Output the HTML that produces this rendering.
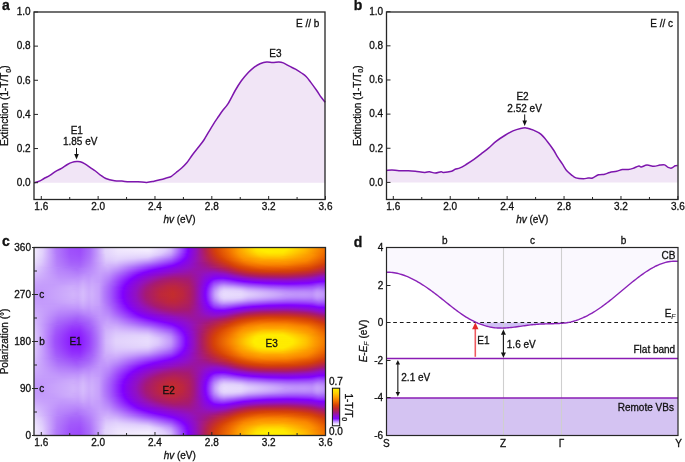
<!DOCTYPE html>
<html><head><meta charset="utf-8"><style>
html,body{margin:0;padding:0;background:#fff;}
#w{position:relative;width:685px;height:462px;overflow:hidden;background:#fff;}
#h div{position:absolute;left:34px;width:292px;height:1px;}
svg{position:absolute;left:0;top:0;will-change:transform;}
text{font-family:"Liberation Sans",sans-serif;fill:#111;stroke:#111;stroke-width:0.3px;}
</style></head><body><div id="w"><div id="h"><div style="top:248px;background:linear-gradient(90deg,#f4eefe 0px,#e1d0fc 9px,#b37cfa 22px,#9f51fb 36px,#9d4bfb 46px,#ab6dfa 56px,#c399fb 63px,#e4d4fc 71px,#efe7fd 84px,#f5effe 114px,#e0cefc 132px,#d4b9fc 137px,#9d4afb 148px,#8611fe 153px,#8101ff 154px,#9211bf 162px,#b02059 171px,#c52e2b 176px,#d44009 181px,#f27400 195px,#fea100 205px,#ffe600 221px,#ffee00 227px,#ffeb00 253px,#ffb700 272px,#f37700 289px,#f07000 291px)"></div><div style="top:249px;background:linear-gradient(90deg,#f4edfe 0px,#e1d0fc 9px,#b37cfa 22px,#9f51fb 36px,#9d4bfb 46px,#ab6dfa 56px,#c399fb 63px,#e3d4fc 71px,#efe6fd 84px,#f4eefe 114px,#e1d0fc 131px,#d3b7fb 137px,#9c49fb 148px,#8610fe 153px,#8000ff 154px,#9211be 162px,#b01f59 171px,#c83124 177px,#d64307 182px,#f27300 195px,#fea100 205px,#ffe700 222px,#ffee00 228px,#ffec00 252px,#ffba00 271px,#f47a00 288px,#f06f00 291px)"></div><div style="top:250px;background:linear-gradient(90deg,#f3edfe 0px,#e1cffc 9px,#b37cfa 22px,#9f51fb 36px,#9d4bfb 46px,#ab6efa 56px,#c399fb 63px,#e3d4fc 71px,#efe5fd 84px,#f3ecfe 114px,#dfccfc 131px,#d1b3fb 137px,#9b47fc 148px,#850efe 153px,#8000fe 154px,#9211be 162px,#b01f5a 171px,#c73125 177px,#d54208 182px,#f17200 195px,#fd9f00 205px,#ffe400 222px,#ffee00 229px,#ffec00 251px,#ffb800 271px,#f47800 288px,#f06e00 291px)"></div><div style="top:251px;background:linear-gradient(90deg,#f3ecfe 0px,#e0cffc 9px,#b37cfa 22px,#9f52fb 36px,#9d4cfb 46px,#ab6efa 56px,#c399fb 63px,#e3d3fc 71px,#eee4fd 84px,#f1e9fe 115px,#decbfc 130px,#cfaffb 137px,#9e4efb 147px,#8000fd 154px,#9311be 162px,#b42151 172px,#c73027 177px,#d54108 182px,#f07000 195px,#fd9e00 205px,#ffe300 223px,#ffee00 233px,#ffea00 250px,#ffb400 271px,#f37700 288px,#ef6d00 291px)"></div><div style="top:252px;background:linear-gradient(90deg,#f3ecfe 0px,#e3d4fc 8px,#b37dfa 22px,#a052fb 36px,#9e4dfb 46px,#ac6ffa 56px,#c399fb 63px,#e3d3fc 71px,#ede3fd 84px,#efe5fd 115px,#dfcdfc 128px,#cca9fb 137px,#9d4bfb 147px,#8101fc 154px,#9311bd 162px,#b32153 172px,#c62f29 177px,#d64307 183px,#ef6e00 195px,#fc9800 204px,#ffde00 223px,#ffeb00 234px,#ffe800 249px,#ffb000 271px,#f47800 287px,#ee6a00 291px)"></div><div style="top:253px;background:linear-gradient(90deg,#f2ebfe 0px,#e3d3fc 8px,#b37dfa 22px,#a053fb 36px,#9e4efb 46px,#ac6ffa 56px,#c399fb 63px,#e2d2fc 71px,#ece1fd 84px,#ece2fd 115px,#ddc9fc 127px,#c8a2fb 137px,#a257fb 145px,#8205ff 153px,#8404f2 155px,#9311bd 162px,#b22155 172px,#c83124 178px,#d54108 183px,#ee6b00 195px,#fc9500 204px,#ffda00 224px,#ffe500 235px,#ffe200 249px,#fea600 273px,#f17200 288px,#ed6800 291px)"></div><div style="top:254px;background:linear-gradient(90deg,#f1eafe 0px,#e2d2fc 8px,#b27afa 23px,#a054fb 36px,#9e4ffb 46px,#ac70fa 56px,#c399fb 63px,#e3d3fc 72px,#ebe0fd 84px,#e9ddfd 115px,#ddc8fc 125px,#c399fb 137px,#9f51fb 145px,#8001ff 153px,#9311bc 162px,#b5224e 173px,#c93320 179px,#d64307 184px,#ef6d00 196px,#fc9600 205px,#ffd600 225px,#ffdd00 236px,#ffdb00 249px,#fc9400 278px,#ec6500 291px)"></div><div style="top:255px;background:linear-gradient(90deg,#f1e9fe 0px,#e2d1fc 8px,#b27afa 23px,#a156fb 36px,#9f50fb 46px,#ad71fa 56px,#c399fb 63px,#e2d2fc 72px,#e9ddfd 85px,#e6d8fc 115px,#d7bffc 125px,#be90fb 137px,#9d4afb 145px,#8101fd 153px,#9311bb 162px,#b82447 174px,#cd3718 181px,#d64307 185px,#ee6900 196px,#fc9500 206px,#ffcf00 226px,#ffd500 236px,#ffd300 249px,#fb8e00 279px,#eb6100 291px)"></div><div style="top:256px;background:linear-gradient(90deg,#f0e8fd 0px,#e1d0fc 8px,#b27bfa 23px,#a157fb 36px,#9f52fb 46px,#ae72fa 56px,#c399fb 63px,#e1d1fc 72px,#e8dbfd 84px,#e2d2fc 115px,#bf91fb 134px,#b37cfa 138px,#850dfe 151px,#8101fa 153px,#9312bb 162px,#b7234b 174px,#cb351c 181px,#d74407 186px,#ee6a00 197px,#fc9500 207px,#ffc800 227px,#ffcd00 245px,#ffad00 263px,#fb8d00 278px,#e95e00 291px)"></div><div style="top:257px;background:linear-gradient(90deg,#efe6fd 0px,#e0cffc 8px,#b37bfa 23px,#a258fb 36px,#a054fb 46px,#ae73fa 56px,#c7a0fb 64px,#e0cffc 72px,#e6d8fc 84px,#dfcdfc 113px,#ba8afb 133px,#b279fa 137px,#8000fe 152px,#9412ba 162px,#b92447 175px,#d03b11 184px,#d94706 188px,#ee6a00 198px,#fc9300 208px,#ffc000 229px,#ffc100 249px,#fb8f00 276px,#e65b01 291px)"></div><div style="top:258px;background:linear-gradient(90deg,#eee5fd 0px,#dfcdfc 8px,#b37cfa 23px,#a258fb 37px,#a155fb 46px,#af74fa 56px,#c7a0fb 64px,#dfccfc 72px,#e4d6fc 83px,#dfcdfc 100px,#d7befc 114px,#ab6dfa 137px,#8000ff 151px,#9412b9 162px,#b7234b 175px,#c93321 182px,#d64307 188px,#ec6400 198px,#fb9000 209px,#ffb800 231px,#ffb700 249px,#fa8a00 276px,#e45702 291px)"></div><div style="top:259px;background:linear-gradient(90deg,#ede3fd 0px,#decbfc 8px,#b37dfa 23px,#a35afb 37px,#a257fb 46px,#b076fa 56px,#c7a0fb 64px,#decafc 72px,#e2d3fc 83px,#dac4fc 100px,#d0b2fb 114px,#a560fa 137px,#8000ff 150px,#9211c0 161px,#b42250 175px,#c73026 182px,#d54208 189px,#ed6800 200px,#fb8f00 211px,#ffa900 227px,#ffac00 248px,#fa8a00 274px,#e25503 290px,#e15303 291px)"></div><div style="top:260px;background:linear-gradient(90deg,#ece2fd 0px,#ddcafc 8px,#b47efa 23px,#a35cfb 37px,#a259fb 46px,#b077fa 56px,#c7a0fb 64px,#dcc7fc 72px,#e0cffc 82px,#d5bafc 100px,#c9a4fb 114px,#9d4cfb 138px,#8000fe 149px,#9311be 161px,#b5224f 176px,#ca341e 185px,#d64307 191px,#fa8700 210px,#fea200 226px,#fea200 251px,#fa8700 273px,#df5004 290px,#de4f04 291px)"></div><div style="top:261px;background:linear-gradient(90deg,#ebe0fd 0px,#dfcdfc 7px,#b47efa 23px,#a45efa 37px,#a35cfb 46px,#b179fa 56px,#c7a0fb 64px,#dbc4fc 72px,#ddc9fc 82px,#cfb0fb 100px,#bf93fb 115px,#983ffc 138px,#8000fd 148px,#9111c3 160px,#b5224f 177px,#cd3818 188px,#d64307 193px,#f57c00 209px,#fc9700 222px,#fd9f00 244px,#f98400 271px,#db4a05 291px)"></div><div style="top:262px;background:linear-gradient(90deg,#eadefd 0px,#decbfc 7px,#b57ffa 23px,#a560fa 37px,#a45efa 46px,#b27afa 56px,#d9c1fc 72px,#dac4fc 82px,#c9a5fb 100px,#b784fb 115px,#9331fd 138px,#8000ff 146px,#8f0fcb 158px,#a3197b 171px,#c22b30 184px,#d74407 195px,#f47900 211px,#fc9300 225px,#fc9400 251px,#f47a00 272px,#d84607 291px)"></div><div style="top:263px;background:linear-gradient(90deg,#e9dcfd 0px,#ddc8fc 7px,#b580fa 23px,#a663fa 37px,#a561fa 46px,#b37cfa 56px,#d7befc 72px,#d7befc 82px,#c39afb 100px,#af74fa 115px,#8d23fd 138px,#8000ff 144px,#8d0dd2 156px,#a21881 171px,#b12058 178px,#cb351d 191px,#d84507 197px,#f47800 214px,#fb8d00 228px,#fb8c00 252px,#f06f00 273px,#d44108 291px)"></div><div style="top:264px;background:linear-gradient(90deg,#e7dafd 0px,#dcc6fc 7px,#b681fa 23px,#a765fa 37px,#a663fa 46px,#b47efa 56px,#d5b9fc 71px,#d3b7fb 82px,#bd8efb 100px,#a157fb 119px,#8814fe 138px,#8000fe 142px,#8e0ece 156px,#a01787 171px,#ad1e60 178px,#cf3a14 195px,#d64307 198px,#f17100 215px,#f98600 231px,#f88400 252px,#ec6400 274px,#d23d0d 290px,#d13c10 291px)"></div><div style="top:265px;background:linear-gradient(90deg,#e6d8fc 0px,#d8c0fc 8px,#b682fa 23px,#a868fa 37px,#a766fa 46px,#b580fa 56px,#d3b6fb 71px,#d0b1fb 82px,#b682fa 100px,#9639fc 123px,#8000fe 139px,#8f0fcb 156px,#a01787 172px,#ab1d64 179px,#ca341f 195px,#d64307 200px,#f06f00 219px,#f57c00 235px,#f37700 254px,#e35603 277px,#d23e0d 287px,#cd3719 291px)"></div><div style="top:266px;background:linear-gradient(90deg,#e5d6fc 0px,#cdabfb 13px,#b783fb 23px,#a96bfa 38px,#a969fa 46px,#b682fa 56px,#cba8fb 67px,#d2b5fb 73px,#cba8fb 83px,#ae72fa 101px,#912dfd 122px,#8000fe 136px,#9010c7 156px,#a01789 173px,#c62f29 195px,#d54108 202px,#ee6a00 223px,#f17200 245px,#e45702 273px,#d33e0b 284px,#c83223 291px)"></div><div style="top:267px;background:linear-gradient(90deg,#e4d4fc 0px,#bf92fb 19px,#ae74fa 32px,#aa6bfa 45px,#b784fb 56px,#caa7fb 67px,#d0b0fb 74px,#c7a1fb 83px,#a45ffa 103px,#8b1dfe 122px,#8000fd 131px,#9010c9 154px,#9814a7 165px,#9e1692 173px,#bc263f 193px,#d54108 205px,#eb6200 225px,#ec6500 251px,#d94806 277px,#d13d0e 282px,#c42d2c 291px)"></div><div style="top:268px;background:linear-gradient(90deg,#e2d2fc 0px,#b784fb 24px,#aa6cfa 42px,#b886fb 56px,#caa5fb 67px,#cdadfb 74px,#c297fb 84px,#9435fc 112px,#8000fd 126px,#9010c7 153px,#9713ae 161px,#9b159a 173px,#a41977 183px,#ba2543 195px,#d33e0b 207px,#e65a02 227px,#e55902 254px,#d54108 277px,#c02836 291px)"></div><div style="top:269px;background:linear-gradient(90deg,#e0cffc 0px,#b886fb 24px,#ac6ffa 43px,#b988fb 56px,#c9a4fb 67px,#cba9fb 74px,#be90fb 84px,#8000ff 121px,#9211bf 153px,#9713ac 161px,#9914a3 173px,#9f178d 182px,#b6234d 196px,#c62f28 203px,#d54108 213px,#e15303 234px,#dd4d05 260px,#d33f0a 274px,#b92445 291px)"></div><div style="top:270px;background:linear-gradient(90deg,#deccfc 0px,#b987fb 24px,#ae73fa 43px,#bb8afb 56px,#c8a3fb 66px,#c9a5fb 74px,#ba88fb 84px,#8001ff 117px,#9412b7 153px,#9813aa 161px,#9713ac 173px,#9a159e 182px,#aa1c68 194px,#c22a32 204px,#d33f09 218px,#db4a05 241px,#d33f0a 267px,#c83223 278px,#b32153 291px)"></div><div style="top:271px;background:linear-gradient(90deg,#ddc8fc 0px,#ba88fb 24px,#b078fa 44px,#b784fb 52px,#c8a2fb 66px,#c7a1fb 74px,#b681fa 84px,#8000fe 114px,#9814a8 157px,#9613b0 168px,#9512b4 180px,#9f178d 191px,#bc263e 205px,#cc361b 217px,#d44108 232px,#d23e0d 257px,#c52e2a 276px,#ad1e61 291px)"></div><div style="top:272px;background:linear-gradient(90deg,#dbc5fc 0px,#bb8afb 24px,#b27bfa 44px,#b886fb 51px,#bd8efb 56px,#c7a1fb 66px,#c39afb 75px,#ad71fa 86px,#8000ff 110px,#8f0fca 135px,#9914a3 156px,#9613b1 167px,#9211bf 175px,#9211c0 182px,#9914a3 191px,#a51975 198px,#c12934 212px,#cc371a 229px,#cd3818 253px,#c12935 275px,#aa1c67 288px,#a61a6f 291px)"></div><div style="top:273px;background:linear-gradient(90deg,#d9c1fc 0px,#bb8bfb 24px,#b47efa 44px,#ba89fb 51px,#be91fb 56px,#c7a0fb 66px,#c195fb 75px,#a765fa 87px,#8101fd 108px,#9814a9 144px,#9b159e 157px,#9412b8 168px,#8f0fca 176px,#8f0fcd 183px,#9311be 190px,#9c1696 197px,#a71b6d 203px,#bd263d 216px,#c52e2a 229px,#c63028 253px,#bd263e 272px,#a11885 291px)"></div><div style="top:274px;background:linear-gradient(90deg,#d7befc 0px,#bc8cfb 25px,#b682fa 44px,#bc8dfb 50px,#bd8efb 55px,#c298fb 59px,#c69ffb 66px,#bf91fb 75px,#9d4bfb 91px,#8000ff 105px,#9914a2 140px,#9c1697 156px,#9512b2 166px,#8f0fcb 172px,#8b0bd8 182px,#8f0fca 192px,#9a14a1 199px,#aa1c68 209px,#bb2541 224px,#c02837 240px,#bf2739 254px,#b5224f 271px,#a61a70 281px,#9f178d 287px,#9b159a 291px)"></div><div style="top:275px;background:linear-gradient(90deg,#d5bbfc 0px,#bd8efb 25px,#b885fb 44px,#be90fb 50px,#be91fb 55px,#c39afb 59px,#c69ffb 66px,#bc8dfb 75px,#922efd 95px,#8000ff 103px,#9b159d 137px,#9e1690 147px,#9e1691 156px,#9512b4 166px,#8e0ecf 172px,#8808e3 182px,#8b0bd8 192px,#9211c1 198px,#a71a6e 213px,#b42151 229px,#b6234c 253px,#ab1c66 273px,#a51975 278px,#9a14a1 286px,#9613af 291px)"></div><div style="top:276px;background:linear-gradient(90deg,#d4b8fc 0px,#be90fb 25px,#ba89fb 41px,#bb8bfb 45px,#c094fb 50px,#bf93fb 55px,#c49cfb 59px,#c59efb 66px,#ba89fb 75px,#8e25fd 95px,#8101ff 101px,#9512b4 124px,#a01789 139px,#a01789 155px,#9713ac 164px,#8d0dd1 171px,#8505ed 182px,#8808e5 192px,#9412b9 204px,#a11885 215px,#a81b6b 225px,#ae1e5f 251px,#a51a74 269px,#9e168f 278px,#9412b8 286px,#9110c4 291px)"></div><div style="top:277px;background:linear-gradient(90deg,#d2b5fb 0px,#bf91fb 25px,#bc8dfb 41px,#bd8efb 45px,#c297fb 50px,#c195fb 55px,#c59dfb 58px,#c59dfb 66px,#b885fb 75px,#8b1cfe 95px,#8000fe 100px,#9412b8 120px,#9f178d 132px,#a3197c 141px,#a11882 155px,#9713ad 164px,#8c0cd5 171px,#8303f6 181px,#8303f4 191px,#9211c0 208px,#9a14a1 216px,#a11884 228px,#a51975 250px,#a11886 264px,#9a15a0 276px,#8f0fca 285px,#8d0dd2 291px)"></div><div style="top:278px;background:linear-gradient(90deg,#d1b2fb 0px,#c9a4fb 11px,#bf93fb 26px,#be90fb 41px,#bf92fb 45px,#c39afb 50px,#c297fb 55px,#c69ffb 58px,#c59dfb 66px,#b682fa 75px,#8a1afe 94px,#8000ff 98px,#9412ba 117px,#a01786 130px,#a61a70 141px,#a4197a 154px,#9814a6 163px,#8b0bd9 171px,#8000ff 181px,#8309ff 189px,#8000fd 193px,#9814a7 225px,#9b159a 240px,#9c1696 253px,#9914a2 264px,#9311bc 277px,#8b0bd8 285px,#8a0ade 291px)"></div><div style="top:279px;background:linear-gradient(90deg,#cfaffb 0px,#c9a3fb 10px,#c095fb 27px,#c195fb 40px,#bf93fb 44px,#c59dfb 50px,#c399fb 55px,#c7a1fb 58px,#c49cfb 66px,#b47efa 75px,#8918fe 93px,#8000fe 97px,#9412b9 115px,#a3197d 129px,#a91c69 139px,#a51a73 154px,#9814a6 163px,#8a0add 171px,#8101fd 178px,#8a19fe 184px,#8b1dfe 190px,#8101fb 199px,#8d0dd2 217px,#9412b8 237px,#9512b3 253px,#9311bd 264px,#8b0bd9 280px,#8707e6 287px,#8606ea 291px)"></div><div style="top:280px;background:linear-gradient(90deg,#ceadfb 0px,#c8a2fb 10px,#c196fb 27px,#c298fb 40px,#c196fb 44px,#c8a2fb 49px,#c49bfb 55px,#c8a3fb 58px,#c49bfb 66px,#b27bfa 75px,#8917fe 92px,#8000fd 96px,#9512b3 114px,#a51a74 128px,#ad1e61 140px,#a61a71 155px,#9713ae 164px,#8909e0 171px,#8000ff 177px,#8d21fd 181px,#9333fd 188px,#8d21fd 196px,#8000fe 204px,#8a0ade 220px,#8e0ed0 241px,#8e0ecd 260px,#8808e3 279px,#8404f2 287px,#8303f5 291px)"></div><div style="top:281px;background:linear-gradient(90deg,#ccaafb 0px,#c7a1fb 9px,#c298fb 29px,#c49bfb 40px,#c399fb 44px,#caa5fb 49px,#c59dfb 55px,#c9a4fb 58px,#c49bfb 66px,#b077fa 75px,#8611fe 92px,#8101fd 95px,#9311be 110px,#a61a6f 126px,#b01f5a 140px,#a91b6a 154px,#9d1695 161px,#8a0add 170px,#8001ff 176px,#902bfd 180px,#9a44fc 187px,#9a45fc 191px,#8f27fd 200px,#8000ff 210px,#8808e3 232px,#8a0ade 254px,#8707e8 274px,#8000fe 287px,#8102ff 291px)"></div><div style="top:282px;background:linear-gradient(90deg,#cba8fb 0px,#c7a0fb 9px,#c39afb 29px,#c69efb 40px,#c49cfb 44px,#cba8fb 49px,#c69ffb 55px,#caa6fb 58px,#c49afb 66px,#af74fa 75px,#8711fe 91px,#8101fd 94px,#9111c2 108px,#a61a72 123px,#b12057 136px,#b12058 145px,#a71a6f 156px,#9613ae 164px,#8707e7 171px,#8000ff 175px,#9639fc 180px,#a156fb 187px,#a258fb 191px,#983ffc 200px,#8a1bfe 210px,#8000fd 221px,#8606eb 252px,#8101fa 278px,#8307ff 281px,#8713fe 286px,#8815fe 291px)"></div><div style="top:283px;background:linear-gradient(90deg,#caa6fb 0px,#c69ffb 9px,#c49cfb 29px,#c7a1fb 40px,#c69ffb 44px,#cdabfb 49px,#c7a1fb 55px,#cba7fb 58px,#c7a0fb 65px,#b784fb 71px,#a155fb 80px,#8000fe 93px,#9211c1 107px,#a61a72 121px,#b32152 134px,#b42250 143px,#aa1c67 155px,#9e1692 161px,#8808e3 170px,#8000fd 174px,#9b46fc 180px,#a867fa 187px,#ab6dfa 190px,#a155fb 200px,#9639fc 209px,#8e25fd 216px,#8307ff 232px,#8101fc 255px,#8307ff 275px,#8918fe 280px,#8f28fd 285px,#8f27fd 291px)"></div><div style="top:284px;background:linear-gradient(90deg,#c9a4fb 0px,#c59efb 8px,#c49cfb 20px,#c8a3fb 40px,#c7a1fb 44px,#ceaefb 49px,#c8a3fb 55px,#cca9fb 58px,#c7a0fb 65px,#b682fa 71px,#9f52fb 80px,#8000ff 92px,#9211c1 106px,#a11883 116px,#ab1d65 123px,#b7234a 137px,#b32152 148px,#a91c6a 156px,#9b159b 162px,#8808e5 170px,#8101fb 173px,#8205ff 174px,#9f52fb 180px,#b279fa 187px,#b580fa 190px,#ab6efa 199px,#9f50fb 209px,#983efc 216px,#8c1ffd 234px,#8711fe 250px,#8610fe 259px,#8d22fd 278px,#963afc 284px,#9538fc 291px)"></div><div style="top:285px;background:linear-gradient(90deg,#c8a2fb 0px,#c59dfb 8px,#c59dfb 20px,#cba8fb 39px,#c9a4fb 44px,#d0b0fb 49px,#c9a4fb 55px,#ccaafb 58px,#c7a0fb 65px,#b580fa 71px,#9c48fc 81px,#8102ff 91px,#9111c2 105px,#a01787 114px,#a91c69 120px,#b82448 133px,#ba2544 141px,#ae1e5d 154px,#a3197d 159px,#8909df 169px,#8000fe 173px,#a45dfb 180px,#bb8afb 187px,#bf93fb 190px,#b784fb 199px,#a96afa 208px,#a157fb 215px,#9535fc 236px,#912dfd 248px,#9029fd 253px,#902afd 263px,#9435fc 278px,#9d4bfb 284px,#9b47fc 291px)"></div><div style="top:286px;background:linear-gradient(90deg,#c7a1fb 0px,#c49cfb 8px,#c59efb 19px,#ccaafb 37px,#caa6fb 44px,#d1b2fb 49px,#caa6fb 55px,#cdacfb 58px,#c7a0fb 65px,#b682fa 70px,#a664fa 76px,#8000fe 91px,#9110c4 104px,#a11886 113px,#ab1d64 120px,#ba2543 133px,#bc263f 141px,#b01f5b 154px,#a3197b 159px,#8b0bd8 168px,#8104ff 173px,#a867fa 180px,#c095fb 186px,#c8a3fb 190px,#c298fb 199px,#b681fa 208px,#ab6efa 214px,#9d4cfb 236px,#9a43fc 248px,#983efc 253px,#983efc 263px,#9942fc 272px,#9d4bfb 279px,#a35cfb 285px,#a155fb 291px)"></div><div style="top:287px;background:linear-gradient(90deg,#c6a0fb 0px,#c49bfb 8px,#c69efb 19px,#cdacfb 37px,#cba8fb 44px,#d2b4fb 49px,#cba7fb 55px,#ceadfb 58px,#c7a0fb 65px,#b681fa 70px,#a662fa 76px,#8101ff 90px,#9211c0 104px,#a21880 113px,#af1f5d 121px,#bd263d 134px,#bd263c 142px,#b12058 154px,#a41979 159px,#8b0bd9 168px,#8101fc 172px,#8918fe 174px,#ad71fa 180px,#c8a2fb 186px,#d0b2fb 190px,#cca9fb 199px,#c196fb 208px,#b783fb 214px,#a55ffa 236px,#a258fb 247px,#9f51fb 253px,#9f50fb 263px,#a052fb 272px,#a35afb 279px,#a96bfa 285px,#a662fa 291px)"></div><div style="top:288px;background:linear-gradient(90deg,#c69efb 0px,#c49bfb 8px,#c69ffb 19px,#ceaefb 37px,#ccaafb 44px,#d3b6fb 49px,#cba8fb 55px,#ceaefb 58px,#c7a0fb 65px,#b580fa 70px,#a561fa 76px,#8000fe 90px,#9111c3 103px,#a3197b 113px,#b6234c 125px,#c02836 138px,#b82447 149px,#ac1d62 156px,#a21882 160px,#8d0dd1 167px,#8000fe 172px,#b27afa 180px,#ceadfb 186px,#d7bffc 190px,#d4b9fc 199px,#cdabfb 207px,#c196fb 214px,#ae72fa 238px,#a765fa 249px,#a662fa 253px,#a560fa 263px,#a662fa 271px,#a664fa 278px,#b178fa 284px,#ab6dfa 291px)"></div><div style="top:289px;background:linear-gradient(90deg,#c59dfb 0px,#c399fb 7px,#c69ffb 18px,#ceaefb 36px,#cdabfb 41px,#cdabfb 44px,#d4b8fc 49px,#cca9fb 55px,#cfaffb 58px,#c7a0fb 65px,#b580fa 70px,#a55ffa 76px,#8101fd 90px,#9211c0 103px,#a3197c 112px,#b5224f 123px,#c02835 135px,#bf2739 144px,#b01f5a 155px,#a21881 160px,#8d0dd1 167px,#8102ff 172px,#b682fa 180px,#d3b7fb 186px,#ddcafc 190px,#dbc6fc 199px,#d5bbfc 207px,#caa6fb 214px,#b784fb 238px,#b178fa 248px,#ad72fa 253px,#ac6ffa 258px,#ab6efa 263px,#ad71fa 270px,#ad70fa 278px,#b783fb 283px,#b682fa 286px,#b178fa 291px)"></div><div style="top:290px;background:linear-gradient(90deg,#c59dfb 0px,#c298fb 7px,#c7a0fb 17px,#cdabfb 33px,#d0b0fb 39px,#cdacfb 44px,#d4b9fc 49px,#ccaafb 55px,#cfaffb 58px,#c7a0fb 65px,#b57ffa 70px,#a45efa 76px,#8102ff 89px,#9110c5 102px,#a41979 112px,#ba2543 126px,#c22a32 138px,#bc2640 148px,#b02059 155px,#a21880 160px,#8d0dd2 167px,#8202f9 171px,#8204ff 172px,#b077fa 179px,#c094fb 181px,#dbc6fc 187px,#e2d2fc 190px,#e0cffc 200px,#dcc7fc 207px,#d1b4fb 214px,#bf92fb 238px,#b986fb 248px,#b57ffa 253px,#b37cfa 258px,#b37bfa 263px,#b47dfa 270px,#b37cfa 278px,#bd8efb 283px,#bb8cfb 286px,#b681fa 291px)"></div><div style="top:291px;background:linear-gradient(90deg,#c49cfb 0px,#c298fb 7px,#c7a0fb 17px,#cdacfb 33px,#d0b1fb 39px,#ceadfb 44px,#d5bafc 49px,#cdabfb 55px,#cfb0fb 58px,#c7a0fb 65px,#b47efa 70px,#a157fb 77px,#8000ff 89px,#9111c3 102px,#a51976 112px,#bb2540 126px,#c32b30 139px,#bb2541 149px,#ae1e5f 156px,#a2187f 160px,#8d0dd2 167px,#8202fa 171px,#8307ff 172px,#b37cfa 179px,#c399fb 181px,#dfccfc 187px,#e5d7fc 190px,#e3d3fc 206px,#d7befc 214px,#c59dfb 239px,#bc8dfb 250px,#bb8afb 253px,#b987fb 258px,#b886fb 263px,#b987fb 270px,#b784fb 278px,#c196fb 283px,#c093fb 286px,#ba88fb 291px)"></div><div style="top:292px;background:linear-gradient(90deg,#c49cfb 0px,#c298fb 7px,#c7a0fb 17px,#cdacfb 33px,#d1b2fb 39px,#ceaefb 44px,#d5bbfc 49px,#cdabfb 55px,#d0b0fb 58px,#c7a0fb 65px,#b47efa 70px,#a156fb 77px,#8000fe 89px,#9211c1 102px,#a51a74 112px,#bd263c 127px,#c32c2f 139px,#bc2640 149px,#ae1e5e 156px,#a2187f 160px,#8d0dd3 167px,#8101fb 171px,#8308ff 172px,#b57ffa 179px,#c59dfb 181px,#e2d1fc 187px,#e7dafd 192px,#e3d3fc 208px,#dbc6fc 214px,#c9a5fb 239px,#c094fb 250px,#bf92fb 253px,#bd8efb 258px,#bc8dfb 263px,#bd8efb 270px,#bb8bfb 278px,#c49cfb 283px,#c399fb 286px,#bd8dfb 291px)"></div><div style="top:293px;background:linear-gradient(90deg,#c49bfb 0px,#c297fb 7px,#c7a0fb 17px,#ceadfb 33px,#d1b3fb 39px,#cfaffb 44px,#d6bbfc 49px,#cdacfb 55px,#d0b1fb 58px,#c7a0fb 65px,#b47efa 70px,#a156fb 77px,#8000fe 89px,#9211c0 102px,#a51a72 112px,#be273c 127px,#c32c2e 139px,#bc263f 149px,#ae1e5e 156px,#a2187f 160px,#8d0dd3 167px,#8101fb 171px,#8409ff 172px,#b681fa 179px,#c69ffb 181px,#dfcdfc 186px,#e8dbfd 190px,#e6d8fc 207px,#ddc9fc 215px,#ccaafb 239px,#c399fb 250px,#c196fb 253px,#bf93fb 258px,#bf91fb 263px,#bf92fb 270px,#bd8efb 278px,#c69ffb 283px,#c59cfb 286px,#be91fb 291px)"></div><div style="top:294px;background:linear-gradient(90deg,#c49bfb 0px,#c297fb 7px,#c7a0fb 17px,#ceaefb 34px,#d1b3fb 39px,#cfaffb 44px,#d6bbfc 49px,#cdacfb 55px,#d0b1fb 58px,#c7a0fb 65px,#b47efa 70px,#a156fb 77px,#8000fe 89px,#9211c0 102px,#a61a72 112px,#be273b 127px,#c42c2e 139px,#bc263f 149px,#ae1e5d 156px,#a2187e 160px,#8d0dd3 167px,#8101fb 171px,#840aff 172px,#b682fa 179px,#c7a0fb 181px,#e0cefc 186px,#e8dcfd 190px,#e6d9fc 207px,#decafc 216px,#cdacfb 238px,#c8a2fb 247px,#c195fb 252px,#c298fb 256px,#bf92fb 262px,#c195fb 269px,#be90fb 278px,#c7a0fb 283px,#c59dfb 286px,#bf92fb 291px)"></div><div style="top:295px;background:linear-gradient(90deg,#c49bfb 0px,#c297fb 7px,#c7a0fb 17px,#ceadfb 33px,#d1b3fb 39px,#cfaffb 44px,#d6bbfc 49px,#cdacfb 55px,#d0b1fb 58px,#c7a0fb 65px,#b47efa 70px,#a156fb 77px,#8000fe 89px,#9211c0 102px,#a51a72 112px,#be273c 127px,#c32c2e 139px,#bc263f 149px,#ae1e5e 156px,#a2187f 160px,#8d0dd3 167px,#8101fb 171px,#8409ff 172px,#b681fa 179px,#c69ffb 181px,#dfcdfc 186px,#e8dbfd 190px,#e6d8fc 207px,#ddc9fc 215px,#ccaafb 239px,#c399fb 250px,#c196fb 253px,#bf93fb 258px,#bf91fb 263px,#bf92fb 270px,#bd8efb 278px,#c69ffb 283px,#c59cfb 286px,#be91fb 291px)"></div><div style="top:296px;background:linear-gradient(90deg,#c49cfb 0px,#c298fb 7px,#c7a0fb 17px,#cdacfb 33px,#d1b2fb 39px,#ceaefb 44px,#d5bbfc 49px,#cdabfb 55px,#d0b0fb 58px,#c7a0fb 65px,#b47efa 70px,#a156fb 77px,#8000fe 89px,#9211c1 102px,#a51a74 112px,#bd263c 127px,#c32c2f 139px,#bc2640 149px,#ae1e5e 156px,#a2187f 160px,#8d0dd3 167px,#8101fb 171px,#8308ff 172px,#b57ffa 179px,#c59dfb 181px,#e2d1fc 187px,#e7dafd 192px,#e3d3fc 208px,#dbc6fc 214px,#c9a5fb 239px,#c094fb 250px,#bf92fb 253px,#bd8efb 258px,#bc8dfb 263px,#bd8efb 270px,#bb8bfb 278px,#c49cfb 283px,#c399fb 286px,#bc8dfb 291px)"></div><div style="top:297px;background:linear-gradient(90deg,#c49cfb 0px,#c298fb 7px,#c7a0fb 17px,#cdacfb 33px,#d0b1fb 39px,#ceadfb 44px,#d5bafc 49px,#cdabfb 55px,#cfb0fb 58px,#c7a0fb 65px,#b47efa 70px,#a157fb 77px,#8000ff 89px,#9111c3 102px,#a51976 112px,#bb2540 126px,#c32b30 139px,#bb2541 149px,#ae1e5f 156px,#a2187f 160px,#8d0dd2 167px,#8202fa 171px,#8307ff 172px,#b37cfa 179px,#c399fb 181px,#dfccfc 187px,#e5d7fc 190px,#e3d3fc 206px,#d7befc 214px,#c59dfb 239px,#bc8cfb 250px,#bb8afb 253px,#b987fb 258px,#b886fb 263px,#b987fb 270px,#b784fb 278px,#c196fb 283px,#c093fb 286px,#ba88fb 291px)"></div><div style="top:298px;background:linear-gradient(90deg,#c59dfb 0px,#c298fb 7px,#c6a0fb 17px,#ccabfb 33px,#d0b0fb 39px,#cdacfb 44px,#d4b9fc 49px,#ccaafb 55px,#cfaffb 58px,#c7a0fb 65px,#b47ffa 70px,#a45efa 76px,#8101ff 89px,#9110c5 102px,#a41978 112px,#ba2543 126px,#c22a32 138px,#bc2640 148px,#b02059 155px,#a21880 160px,#8d0dd2 167px,#8202f9 171px,#8204ff 172px,#b077fa 179px,#c094fb 181px,#dbc6fc 187px,#e2d2fc 190px,#e0cffc 200px,#dcc7fc 207px,#d1b4fb 214px,#bf92fb 238px,#b986fb 248px,#b57ffa 253px,#b37cfa 258px,#b37bfa 263px,#b47dfa 270px,#b37bfa 278px,#bd8efb 283px,#bb8bfb 286px,#b681fa 291px)"></div><div style="top:299px;background:linear-gradient(90deg,#c59dfb 0px,#c398fb 7px,#c69ffb 18px,#ceadfb 36px,#cdabfb 41px,#cdabfb 44px,#d4b8fc 49px,#cca9fb 55px,#ceaefb 58px,#c6a0fb 65px,#b57ffa 70px,#a55ffa 76px,#8101fd 90px,#9211c0 103px,#a3197c 112px,#b5224f 123px,#c02835 135px,#bf2739 144px,#b01f5a 155px,#a21880 160px,#8d0dd1 167px,#8101ff 172px,#b682fa 180px,#d3b7fb 186px,#ddc9fc 190px,#dbc6fc 199px,#d5bafc 207px,#caa6fb 214px,#b784fb 238px,#b178fa 248px,#ad71fa 253px,#ac6ffa 258px,#ab6efa 263px,#ad71fa 270px,#ac70fa 278px,#b783fb 283px,#b681fa 286px,#b178fa 291px)"></div><div style="top:300px;background:linear-gradient(90deg,#c69efb 0px,#c39afb 8px,#c69efb 19px,#ceadfb 39px,#cca9fb 44px,#d3b6fb 49px,#cba8fb 55px,#ceadfb 58px,#c6a0fb 65px,#b580fa 70px,#a561fa 76px,#8000fe 90px,#9111c3 103px,#a3197a 113px,#b6234c 125px,#c02836 138px,#b82447 149px,#ac1d62 156px,#a21881 160px,#8e0ed1 167px,#8000fe 172px,#b27afa 180px,#ceadfb 186px,#d7befc 190px,#d4b8fc 199px,#cdabfb 207px,#c196fb 214px,#ae72fa 238px,#a765fa 249px,#a662fa 253px,#a560fa 263px,#a662fa 271px,#a663fa 278px,#b178fa 284px,#ab6dfa 291px)"></div><div style="top:301px;background:linear-gradient(90deg,#c69ffb 0px,#c49bfb 8px,#c59efb 19px,#cdabfb 39px,#cba7fb 44px,#d1b4fb 49px,#caa6fb 55px,#cdacfb 58px,#c69ffb 65px,#b681fa 70px,#a662fa 76px,#8001ff 90px,#9211bf 104px,#a21880 113px,#af1f5c 121px,#bd263d 134px,#bd263c 142px,#b12058 154px,#a41979 159px,#8b0bd9 168px,#8101fc 172px,#8917fe 174px,#ad71fa 180px,#c7a1fb 186px,#d0b1fb 190px,#cba9fb 199px,#c195fb 208px,#b783fb 214px,#a55ffa 236px,#a258fb 247px,#9f51fb 253px,#9f50fb 263px,#a052fb 272px,#a35afb 279px,#a96afa 285px,#a561fa 291px)"></div><div style="top:302px;background:linear-gradient(90deg,#c7a0fb 0px,#c49bfb 8px,#c59dfb 19px,#cba9fb 39px,#c9a5fb 44px,#d0b1fb 49px,#c9a5fb 55px,#cdabfb 58px,#c69ffb 65px,#b682fa 70px,#a664fa 76px,#8000fd 91px,#9110c4 104px,#a11885 113px,#ab1d64 120px,#ba2543 133px,#bc263f 141px,#b01f5a 154px,#a3197a 159px,#8c0cd7 168px,#8103ff 173px,#a766fa 180px,#c094fb 186px,#c8a2fb 190px,#c297fb 199px,#b581fa 208px,#ab6dfa 214px,#9d4bfb 237px,#9940fc 249px,#983efc 253px,#983dfc 263px,#9941fc 272px,#9d4afb 279px,#a35cfb 285px,#a155fb 291px)"></div><div style="top:303px;background:linear-gradient(90deg,#c7a1fb 0px,#c49bfb 8px,#c49bfb 20px,#caa6fb 39px,#c8a2fb 44px,#cfaffb 49px,#c8a3fb 55px,#cca9fb 58px,#c69ffb 65px,#b57ffa 71px,#9b47fc 81px,#8001ff 91px,#9211c2 105px,#a01786 114px,#a91c69 120px,#b82448 133px,#ba2543 141px,#af1f5d 154px,#a3197c 159px,#8909de 169px,#8000fe 173px,#a35cfb 180px,#ba89fb 187px,#bf92fb 190px,#b783fb 199px,#a96afa 208px,#a156fb 215px,#9435fc 236px,#912cfd 248px,#8f28fd 253px,#9029fd 263px,#9434fc 278px,#9d4afb 284px,#9b46fc 291px)"></div><div style="top:304px;background:linear-gradient(90deg,#c8a2fb 0px,#c49cfb 8px,#c39afb 20px,#c7a1fb 40px,#c69ffb 44px,#cdacfb 49px,#c7a1fb 55px,#cba7fb 58px,#c69efb 65px,#b681fa 71px,#9c4afb 81px,#8000fe 92px,#9211c0 106px,#a11882 116px,#aa1c68 122px,#b7234b 135px,#b7234a 143px,#ab1d64 155px,#a01786 160px,#8a0adc 169px,#8104ff 174px,#9f51fb 180px,#b37cfa 188px,#b27bfa 194px,#9f4ffb 209px,#983dfc 216px,#8c1efe 234px,#8610fe 250px,#860ffe 259px,#8d21fd 278px,#9639fc 284px,#9537fc 291px)"></div><div style="top:305px;background:linear-gradient(90deg,#c9a4fb 0px,#c59dfb 9px,#c39afb 30px,#c69efb 40px,#c49cfb 44px,#cba9fb 49px,#c69ffb 55px,#caa5fb 58px,#c69efb 65px,#b682fa 71px,#a053fb 80px,#8101fd 93px,#9211c0 107px,#a61a70 121px,#b42151 134px,#b5224f 143px,#aa1c66 155px,#9e1691 161px,#8808e2 170px,#8101fd 174px,#912dfd 178px,#9d4bfb 181px,#a869fa 188px,#a663fa 195px,#9537fc 209px,#8e24fd 216px,#8206ff 232px,#8202fa 250px,#8206ff 275px,#8916fe 280px,#8f27fd 285px,#8e26fd 291px)"></div><div style="top:306px;background:linear-gradient(90deg,#c9a5fb 0px,#c59dfb 9px,#c297fb 29px,#c49afb 40px,#c298fb 44px,#c9a5fb 49px,#c59cfb 55px,#c8a3fb 58px,#c298fb 66px,#ae72fa 75px,#8610fe 91px,#8102ff 93px,#9211c1 108px,#a61a71 123px,#b32154 138px,#ad1e60 151px,#a71b6e 156px,#9914a4 163px,#8909df 170px,#8000fe 175px,#9537fc 180px,#a155fb 187px,#a157fb 191px,#983dfc 200px,#8a19fe 210px,#8000fe 220px,#8606ea 252px,#8202f9 278px,#8000ff 280px,#8712fe 285px,#8713fe 291px)"></div><div style="top:307px;background:linear-gradient(90deg,#caa6fb 0px,#c59dfb 9px,#c094fb 29px,#c297fb 40px,#c095fb 44px,#c7a1fb 49px,#c39afb 55px,#c7a1fb 58px,#c298fb 66px,#af75fa 75px,#860ffe 92px,#8001ff 94px,#9111c2 109px,#a71a6e 126px,#b02059 140px,#a91c69 154px,#9f178b 160px,#8a0adc 170px,#8000fe 176px,#9029fd 180px,#9a42fc 187px,#9a43fc 191px,#8e25fd 200px,#8000fe 210px,#8808e2 232px,#8a0add 254px,#8707e7 274px,#8101fd 287px,#8000ff 291px)"></div><div style="top:308px;background:linear-gradient(90deg,#cba8fb 0px,#c59efb 10px,#bf91fb 28px,#bf93fb 40px,#be91fb 44px,#c59dfb 49px,#c297fb 55px,#c69ffb 58px,#c298fb 66px,#b077fa 75px,#8815fe 92px,#8001ff 95px,#9412b6 113px,#a61a71 128px,#ad1e60 141px,#a61a6f 155px,#9914a4 163px,#8909df 171px,#8000fd 177px,#8b1efe 181px,#9230fd 188px,#8c1efe 196px,#8000ff 203px,#8a0add 220px,#8e0ece 241px,#8f0fcc 260px,#8909e2 279px,#8404f1 287px,#8303f4 291px)"></div><div style="top:309px;background:linear-gradient(90deg,#cca9fb 0px,#c59efb 10px,#bd8ffb 27px,#bd8efb 40px,#bc8cfb 44px,#c297fb 50px,#c094fb 55px,#c49cfb 58px,#c298fb 66px,#b27afa 75px,#8815fe 93px,#8102ff 96px,#9512b6 115px,#a4197a 129px,#aa1c67 139px,#a61a70 154px,#9914a3 163px,#8a0adb 171px,#8001ff 179px,#8713fe 183px,#8a19fe 190px,#8101fd 198px,#8e0ed0 217px,#9512b5 237px,#9613b0 253px,#9312ba 264px,#8c0cd7 280px,#8808e5 287px,#8707e8 291px)"></div><div style="top:310px;background:linear-gradient(90deg,#cdabfb 0px,#c59dfb 11px,#bc8cfb 26px,#ba88fb 41px,#bb8afb 45px,#bf93fb 50px,#be91fb 55px,#c399fb 58px,#c298fb 66px,#b47dfa 75px,#8b1cfe 93px,#8101fd 98px,#9311bc 116px,#a11886 129px,#a71b6e 140px,#a41976 154px,#9914a3 163px,#8c0cd7 171px,#8101fd 181px,#8102ff 190px,#8b0bd9 206px,#9a14a2 226px,#9c1697 241px,#9d1693 253px,#9a159f 264px,#9412b9 277px,#8d0dd4 284px,#8a0adc 291px)"></div><div style="top:311px;background:linear-gradient(90deg,#cdacfb 0px,#ba89fb 25px,#b783fb 41px,#b885fb 45px,#bd8efb 50px,#bd8efb 55px,#c196fb 58px,#c297fb 66px,#b580fa 75px,#8b1efe 94px,#8000fe 99px,#9412b8 119px,#9f178c 131px,#a41978 141px,#a2187f 155px,#9814a9 164px,#8d0dd3 171px,#8303f3 181px,#8404f2 191px,#9211c2 207px,#9b159d 216px,#a21880 228px,#a61a71 250px,#a11882 264px,#9b159d 276px,#9010c9 286px,#8e0ed0 291px)"></div><div style="top:312px;background:linear-gradient(90deg,#ceaefb 0px,#b986fb 25px,#b47efa 44px,#ba8afb 50px,#bb8afb 55px,#c094fb 59px,#c297fb 66px,#b783fb 75px,#8c20fd 95px,#8101fd 101px,#9512b4 123px,#9f178d 136px,#a21882 144px,#a01787 156px,#9613b2 166px,#8e0ece 171px,#8606ea 182px,#8808e2 192px,#9211be 202px,#a21881 215px,#aa1c68 225px,#af1f5c 251px,#a51a72 271px,#9e1691 279px,#9512b3 286px,#9211bf 291px)"></div><div style="top:313px;background:linear-gradient(90deg,#cfb0fb 0px,#b783fb 25px,#b179fa 44px,#b885fb 50px,#b987fb 55px,#bf91fb 59px,#c297fb 66px,#b886fb 75px,#8f28fd 95px,#8000ff 102px,#9412b9 125px,#9e1690 140px,#9f178c 156px,#9613af 166px,#8f0fcc 172px,#8909df 182px,#8c0cd4 192px,#9111c2 197px,#a71b6e 212px,#b5224f 228px,#b72349 253px,#ac1d62 273px,#a41977 279px,#9b159c 286px,#9713aa 291px)"></div><div style="top:314px;background:linear-gradient(90deg,#d0b1fb 0px,#b580fa 25px,#ae74fa 44px,#b580fa 50px,#b783fb 55px,#bd8efb 59px,#c297fb 66px,#ba89fb 75px,#9535fc 94px,#8000fe 104px,#9b159c 140px,#9e1691 156px,#9713ac 166px,#9010c9 173px,#8c0cd5 182px,#9010c9 191px,#9a14a2 198px,#aa1c68 208px,#bb2541 222px,#c12934 237px,#c02837 255px,#b6224d 272px,#a61a70 282px,#a0178a 288px,#9d1694 291px)"></div><div style="top:315px;background:linear-gradient(90deg,#d1b3fb 0px,#b37dfa 25px,#ab6efa 44px,#b27bfa 51px,#b784fb 56px,#c196fb 66px,#bc8cfb 75px,#9f4ffb 90px,#8000ff 106px,#9914a4 143px,#9c1697 157px,#9613b1 168px,#9010ca 179px,#9211c1 187px,#9b159d 195px,#a71b6d 202px,#bf2739 216px,#c83124 232px,#c73026 254px,#bd273c 273px,#a2187e 291px)"></div><div style="top:316px;background:linear-gradient(90deg,#d2b4fb 0px,#b27bfa 24px,#a869fa 44px,#b077fa 52px,#c196fb 66px,#bf92fb 74px,#aa6bfa 85px,#8610fe 105px,#8101fd 109px,#9914a6 149px,#9b159b 158px,#9412b9 176px,#9412b9 182px,#9b159c 191px,#b01f5a 202px,#c32c2f 213px,#ce3916 230px,#ce3915 253px,#c22b31 275px,#ab1d65 289px,#a81b6b 291px)"></div><div style="top:317px;background:linear-gradient(90deg,#d3b6fb 0px,#b077fa 24px,#a663fa 43px,#b178fa 55px,#c196fb 65px,#c195fb 74px,#af76fa 84px,#850efe 108px,#8000fe 112px,#8f0fcc 136px,#9a159f 158px,#9713ac 175px,#9814a7 182px,#a11885 191px,#c12935 206px,#d13c0f 221px,#d64307 234px,#d23e0c 261px,#c62f29 277px,#af1f5c 291px)"></div><div style="top:318px;background:linear-gradient(90deg,#d3b7fb 0px,#af74fa 24px,#a45efa 43px,#ae74fa 55px,#c195fb 66px,#c298fb 74px,#b37cfa 84px,#8000ff 115px,#9613ae 153px,#9a14a1 161px,#9914a3 173px,#9d1695 182px,#b42151 197px,#c42c2e 204px,#d44008 217px,#dc4c05 238px,#d84507 262px,#d13d0e 272px,#b6224d 291px)"></div><div style="top:319px;background:linear-gradient(90deg,#d4b9fc 0px,#ad71fa 24px,#a259fb 43px,#ac70fa 55px,#c195fb 66px,#c49bfb 74px,#b682fa 84px,#8101fd 119px,#9412b9 152px,#9914a3 160px,#9c1599 173px,#a11883 182px,#b92446 196px,#ca3420 204px,#d64207 212px,#e35603 233px,#df5004 259px,#d33e0b 276px,#bc263e 291px)"></div><div style="top:320px;background:linear-gradient(90deg,#d5bafc 0px,#ab6efa 24px,#a155fb 42px,#aa6cfa 55px,#c094fb 66px,#c59dfb 74px,#bb8bfb 83px,#8204ff 121px,#8404f1 129px,#9211c1 152px,#9914a5 160px,#9e168f 173px,#b22154 190px,#d33f0a 206px,#e75c01 226px,#e85d01 253px,#d74407 277px,#cd3719 283px,#c22b31 291px)"></div><div style="top:321px;background:linear-gradient(90deg,#d6bcfc 0px,#a96afa 24px,#9f50fb 42px,#a868fa 55px,#c195fb 67px,#c7a1fb 73px,#be91fb 83px,#8a1bfe 119px,#8101fd 127px,#8e0ecf 149px,#9311be 154px,#9b159e 164px,#a11886 173px,#c32c2f 195px,#d54207 204px,#ec6600 225px,#ee6900 251px,#dc4b05 277px,#d23d0d 283px,#c73027 291px)"></div><div style="top:322px;background:linear-gradient(90deg,#d6bdfc 0px,#a867fa 24px,#9d4bfb 42px,#a561fa 54px,#c195fb 67px,#c8a3fb 73px,#c196fb 83px,#9331fd 117px,#8000fe 131px,#8e0ed0 151px,#9b159c 164px,#a3197c 173px,#c62f28 194px,#d54207 201px,#ef6c00 221px,#f37500 238px,#f17100 254px,#e15203 277px,#d23d0d 286px,#cb351d 291px)"></div><div style="top:323px;background:linear-gradient(90deg,#d7befc 0px,#a766fa 23px,#9d4afb 39px,#9c4afb 46px,#a766fa 56px,#c195fb 67px,#c9a5fb 73px,#c49cfb 83px,#aa6cfa 101px,#973bfc 118px,#8000fe 136px,#9010c9 154px,#9d1693 166px,#a51a73 173px,#c93322 193px,#d64307 199px,#f07000 217px,#f78100 233px,#f57d00 253px,#e75c01 276px,#d23e0d 289px,#cf3a13 291px)"></div><div style="top:324px;background:linear-gradient(90deg,#d8bffc 0px,#ad72fa 19px,#a155fb 30px,#9942fc 43px,#a45efa 55px,#c399fb 68px,#cba7fb 73px,#c8a3fb 82px,#b27afa 100px,#9b45fc 119px,#8101fd 139px,#9010c9 155px,#b5224e 180px,#d64307 197px,#f27400 214px,#fa8900 229px,#fa8700 253px,#ed6900 274px,#d43f09 291px)"></div><div style="top:325px;background:linear-gradient(90deg,#d8c1fc 0px,#b279fa 17px,#a561fa 23px,#9942fc 38px,#9941fc 46px,#a869fa 58px,#c8a2fb 70px,#ccaafb 76px,#c9a5fb 84px,#b681fa 101px,#a156fb 118px,#8610fe 138px,#8000fe 141px,#8f0fcc 155px,#b32152 177px,#ce3916 191px,#d84606 196px,#f57b00 213px,#fb9100 227px,#fb9000 252px,#f37700 272px,#d74507 291px)"></div><div style="top:326px;background:linear-gradient(90deg,#d9c2fc 0px,#b47dfa 16px,#a45ffa 23px,#983dfc 38px,#973cfc 46px,#a766fa 58px,#cba8fb 71px,#ceadfb 82px,#bd8efb 100px,#ab6dfa 115px,#8b1efe 138px,#8000fe 143px,#8e0ecf 155px,#b22056 175px,#cb351c 187px,#d64207 193px,#f57c00 210px,#fc9600 224px,#fd9a00 249px,#f78000 272px,#db4a06 291px)"></div><div style="top:327px;background:linear-gradient(90deg,#dac3fc 0px,#bb8afb 13px,#a45ffa 22px,#9639fc 38px,#9638fc 46px,#a867fa 59px,#cca9fb 71px,#d0b1fb 82px,#c298fb 100px,#b27bfa 115px,#902afd 138px,#8000fe 145px,#8d0dd2 155px,#b22055 174px,#c52e2a 182px,#d64307 191px,#f98500 210px,#fda000 226px,#fea000 251px,#f98500 273px,#df5104 290px,#de4f04 291px)"></div><div style="top:328px;background:linear-gradient(90deg,#dac4fc 0px,#c297fb 10px,#a45dfb 22px,#9435fc 38px,#9434fd 46px,#a561fa 58px,#ccabfb 71px,#d2b5fb 82px,#c7a1fb 100px,#bb8bfb 114px,#9537fc 138px,#8001ff 146px,#8c0cd5 155px,#b12057 173px,#c62f28 181px,#d64207 189px,#ed6700 200px,#fb8e00 211px,#ffa700 227px,#ffa700 251px,#fa8900 274px,#e35503 290px,#e15403 291px)"></div><div style="top:329px;background:linear-gradient(90deg,#dbc5fc 0px,#c59cfb 9px,#a35afb 22px,#9331fd 38px,#9230fd 46px,#a35afb 57px,#b37cfa 63px,#cfaffb 72px,#d5b9fc 82px,#cca9fb 100px,#c297fb 114px,#9c4afb 137px,#8102ff 147px,#8b0bd8 155px,#a11884 166px,#c52d2b 179px,#d54208 187px,#ec6500 198px,#fb8f00 209px,#ffb500 230px,#ffb400 249px,#fa8a00 276px,#e55802 291px)"></div><div style="top:330px;background:linear-gradient(90deg,#dbc5fc 0px,#c7a1fb 8px,#a259fb 22px,#922efd 38px,#912cfd 46px,#a258fb 57px,#b27afa 63px,#d0b0fb 72px,#d7bdfc 82px,#d0b1fb 100px,#c8a3fb 114px,#a054fb 137px,#8102ff 148px,#8b0bda 155px,#9914a5 162px,#b22155 172px,#c73026 179px,#d64307 186px,#ec6600 197px,#fc9300 208px,#ffbf00 229px,#ffc000 249px,#fb8c00 277px,#e75c01 291px)"></div><div style="top:331px;background:linear-gradient(90deg,#dcc6fc 0px,#c7a1fb 8px,#a157fb 22px,#902bfd 38px,#9029fd 46px,#9f50fb 56px,#b179fa 63px,#d0b2fb 72px,#d8c1fc 82px,#d4b9fc 100px,#ceadfb 114px,#a45ffa 137px,#8000ff 149px,#9010c9 158px,#a91c69 169px,#c42d2d 177px,#d64307 185px,#ed6600 196px,#fc9500 207px,#ffc800 227px,#ffcd00 245px,#ffae00 263px,#fb8e00 278px,#ea6000 291px)"></div><div style="top:332px;background:linear-gradient(90deg,#dcc7fc 0px,#c7a1fb 8px,#a155fb 22px,#8f28fd 38px,#8f26fd 46px,#9e4efb 56px,#b178fa 63px,#d1b3fb 72px,#dac4fc 82px,#d8c0fc 100px,#d3b7fb 114px,#b178fa 133px,#a560fa 138px,#8000fd 150px,#9211c2 159px,#aa1c66 169px,#c62f29 177px,#d44008 183px,#ef6c00 196px,#fc9700 206px,#ffd100 226px,#ffd600 237px,#ffd400 249px,#fb8f00 279px,#ec6500 291px)"></div><div style="top:333px;background:linear-gradient(90deg,#dcc8fc 0px,#cba7fb 7px,#a054fb 22px,#8e25fd 38px,#8e23fd 46px,#9d4cfb 56px,#b077fa 63px,#d2b4fb 72px,#dcc7fc 82px,#dbc6fc 100px,#d8c0fc 114px,#b986fb 132px,#ad72fa 137px,#8103ff 150px,#8d0dd3 157px,#a3197d 166px,#c42d2c 176px,#d64307 183px,#ee6b00 195px,#fc9800 205px,#ffd600 224px,#ffe000 235px,#ffde00 249px,#fd9c00 276px,#ed6900 291px)"></div><div style="top:334px;background:linear-gradient(90deg,#ddc8fc 0px,#cba7fb 7px,#a052fb 22px,#8d22fd 38px,#8d21fd 46px,#9d4bfb 56px,#b076fa 63px,#d2b5fb 72px,#ddc9fc 82px,#decbfc 100px,#dcc8fc 114px,#bd8ffb 132px,#b27afa 137px,#8000fe 151px,#9312ba 160px,#a91c69 168px,#c62f29 176px,#d54207 182px,#f06f00 195px,#fc9800 204px,#ffb900 213px,#ffde00 224px,#ffe900 235px,#ffe600 249px,#ffb000 271px,#f37600 288px,#ef6c00 291px)"></div><div style="top:335px;background:linear-gradient(90deg,#ddc9fc 0px,#cba7fb 7px,#a155fb 21px,#8c20fd 38px,#8c1efe 46px,#9c49fb 56px,#af75fa 63px,#d2b6fb 72px,#deccfc 82px,#e1d0fc 100px,#e0cffc 114px,#c49bfb 131px,#b682fa 137px,#850cfe 150px,#8102ff 151px,#9311bb 160px,#aa1c68 168px,#c73026 176px,#d44108 181px,#f17200 195px,#fd9f00 205px,#ffe300 223px,#ffee00 233px,#ffeb00 250px,#ffb600 271px,#f47900 288px,#f06f00 291px)"></div><div style="top:336px;background:linear-gradient(90deg,#ddc9fc 0px,#cba7fb 7px,#a054fb 21px,#8c1efe 38px,#8b1cfe 46px,#9a43fc 55px,#af74fa 63px,#d3b6fb 72px,#dfcdfc 82px,#e2d3fc 103px,#e2d2fc 115px,#c7a1fb 131px,#ba89fb 137px,#9638fc 146px,#8205ff 151px,#8303f5 153px,#9311bc 160px,#aa1c67 168px,#c83124 176px,#d64207 181px,#f37500 195px,#fea500 206px,#ffe400 221px,#ffee00 227px,#ffea00 253px,#ffb700 272px,#f47800 289px,#f17200 291px)"></div><div style="top:337px;background:linear-gradient(90deg,#ddc9fc 0px,#cba7fb 7px,#a053fb 21px,#8b1dfe 38px,#8a1bfe 46px,#9942fc 55px,#ae74fa 63px,#d3b7fb 72px,#e0cffc 82px,#e6d8fc 113px,#d8c0fc 124px,#bd8efb 137px,#9a44fc 145px,#8000fe 152px,#9311bc 160px,#aa1c66 168px,#c62f29 175px,#d44008 180px,#f47800 195px,#ffb100 208px,#ffe900 221px,#ffee00 230px,#ffea00 255px,#ffbc00 272px,#fc9800 281px,#f27400 291px)"></div><div style="top:338px;background:linear-gradient(90deg,#ddcafc 0px,#cba7fb 7px,#a052fb 21px,#8b1bfe 38px,#8a1afe 46px,#9941fc 55px,#ae73fa 63px,#d3b7fb 72px,#e1d0fc 82px,#e6d9fc 114px,#dac4fc 124px,#bf92fb 137px,#9b47fc 145px,#8000ff 152px,#9311bd 160px,#ab1d65 168px,#c62f28 175px,#d54108 180px,#f77f00 196px,#ffcd00 213px,#ffee00 222px,#ffec00 256px,#ffbf00 272px,#fea000 279px,#f37600 291px)"></div><div style="top:339px;background:linear-gradient(90deg,#ddcafc 0px,#cba7fb 7px,#9f52fb 21px,#8a1bfe 38px,#8a19fe 46px,#9940fc 55px,#ae73fa 63px,#d4b8fc 72px,#e2d1fc 82px,#e7dafd 114px,#dcc7fc 124px,#c195fb 137px,#9c49fb 145px,#8001ff 152px,#9311bd 160px,#ab1d65 168px,#c63027 175px,#d54208 180px,#f78100 196px,#ffcb00 212px,#ffee00 221px,#ffea00 258px,#ffc100 272px,#fd9e00 280px,#f37700 291px)"></div><div style="top:340px;background:linear-gradient(90deg,#decafc 0px,#cba7fb 7px,#9f51fb 21px,#8a1afe 38px,#8918fe 46px,#9940fc 55px,#ae73fa 63px,#d4b8fc 72px,#e2d2fc 82px,#e8dbfd 114px,#ddc9fc 124px,#c297fb 137px,#9d4bfb 145px,#8102ff 152px,#9311bd 160px,#ab1d64 168px,#c73027 175px,#d64207 180px,#f78200 196px,#ffcc00 212px,#ffee00 220px,#ffec00 258px,#ffc300 272px,#fd9f00 280px,#f47800 291px)"></div><div style="top:341px;background:linear-gradient(90deg,#decafc 0px,#cba8fb 7px,#9f51fb 21px,#8a1afe 38px,#8918fe 46px,#9840fc 55px,#ae73fa 63px,#d4b8fc 72px,#e2d2fc 82px,#e8dcfd 114px,#ddc9fc 124px,#c298fb 137px,#9d4bfb 145px,#8102ff 152px,#9311bd 160px,#ab1d64 168px,#c73026 175px,#d64207 180px,#f88200 196px,#ffc800 211px,#ffee00 220px,#ffea00 259px,#ffbe00 273px,#fd9c00 281px,#f47800 291px)"></div><div style="top:342px;background:linear-gradient(90deg,#decafc 0px,#cba7fb 7px,#9f51fb 21px,#8a1afe 38px,#8918fe 46px,#9940fc 55px,#ae73fa 63px,#d4b8fc 72px,#e2d2fc 82px,#e8dbfd 114px,#ddc9fc 124px,#c297fb 137px,#9d4bfb 145px,#8102ff 152px,#9311bd 160px,#ab1d64 168px,#c73027 175px,#d64207 180px,#f78200 196px,#ffcc00 212px,#ffee00 220px,#ffec00 258px,#ffc300 272px,#fd9f00 280px,#f47800 291px)"></div><div style="top:343px;background:linear-gradient(90deg,#ddcafc 0px,#cba7fb 7px,#9f52fb 21px,#8a1bfe 38px,#8a19fe 46px,#9940fc 55px,#ae73fa 63px,#d4b8fc 72px,#e2d1fc 82px,#e7dafd 114px,#dcc7fc 124px,#c195fb 137px,#9c49fb 145px,#8001ff 152px,#9311bd 160px,#ab1d65 168px,#c63027 175px,#d54208 180px,#f78100 196px,#ffcb00 212px,#ffee00 221px,#ffea00 258px,#ffc100 272px,#fd9e00 280px,#f37700 291px)"></div><div style="top:344px;background:linear-gradient(90deg,#ddcafc 0px,#cba7fb 7px,#a052fb 21px,#8b1bfe 38px,#8a1afe 46px,#9941fc 55px,#ae73fa 63px,#d3b7fb 72px,#e1d0fc 82px,#e6d9fc 114px,#dac4fc 124px,#bf92fb 137px,#9b47fc 145px,#8000ff 152px,#9311bd 160px,#ab1d65 168px,#c62f28 175px,#d54108 180px,#f77f00 196px,#ffcd00 213px,#ffee00 222px,#ffec00 256px,#ffbf00 272px,#fea000 279px,#f37600 291px)"></div><div style="top:345px;background:linear-gradient(90deg,#ddc9fc 0px,#cba7fb 7px,#a053fb 21px,#8b1dfe 38px,#8a1bfe 46px,#9942fc 55px,#ae74fa 63px,#d3b7fb 72px,#e0cffc 82px,#e6d8fc 113px,#d8c0fc 124px,#bd8efb 137px,#9a44fc 145px,#8000fe 152px,#9311bc 160px,#aa1c66 168px,#c62f29 175px,#d44008 180px,#f47800 195px,#ffb100 208px,#ffe900 221px,#ffee00 230px,#ffea00 255px,#ffbc00 272px,#fc9800 281px,#f27400 291px)"></div><div style="top:346px;background:linear-gradient(90deg,#ddc9fc 0px,#cba7fb 7px,#a054fb 21px,#8c1efe 38px,#8b1cfe 46px,#9a43fc 55px,#af74fa 63px,#d3b6fb 72px,#dfcdfc 82px,#e2d3fc 103px,#e2d2fc 115px,#c7a1fb 131px,#ba89fb 137px,#9638fc 146px,#8205ff 151px,#8303f5 153px,#9311bc 160px,#aa1c67 168px,#c83124 176px,#d64207 181px,#f37500 195px,#fea500 206px,#ffe400 221px,#ffee00 227px,#ffea00 253px,#ffb700 272px,#f47800 289px,#f17200 291px)"></div><div style="top:347px;background:linear-gradient(90deg,#ddc9fc 0px,#cba7fb 7px,#a155fb 21px,#8c20fd 38px,#8c1efe 46px,#9c49fb 56px,#af75fa 63px,#d2b6fb 72px,#deccfc 82px,#e1d0fc 100px,#e0cffc 114px,#c49bfb 131px,#b682fa 137px,#850cfe 150px,#8102ff 151px,#9311bb 160px,#aa1c68 168px,#c73026 176px,#d44108 181px,#f17200 195px,#fd9f00 205px,#ffe300 223px,#ffee00 233px,#ffeb00 250px,#ffb600 271px,#f47900 288px,#f06f00 291px)"></div><div style="top:348px;background:linear-gradient(90deg,#ddc8fc 0px,#cba7fb 7px,#a052fb 22px,#8d22fd 38px,#8d21fd 46px,#9d4bfb 56px,#b076fa 63px,#d2b5fb 72px,#ddc9fc 82px,#decbfc 100px,#dcc8fc 114px,#bd8ffb 132px,#b27afa 137px,#8000fe 151px,#9312ba 160px,#a91c69 168px,#c62f29 176px,#d54207 182px,#f06f00 195px,#fc9800 204px,#ffb900 213px,#ffde00 224px,#ffe900 235px,#ffe600 249px,#ffb000 271px,#f37600 288px,#ef6c00 291px)"></div><div style="top:349px;background:linear-gradient(90deg,#dcc8fc 0px,#cba7fb 7px,#a054fb 22px,#8e25fd 38px,#8e23fd 46px,#9d4cfb 56px,#b077fa 63px,#d2b4fb 72px,#dcc7fc 82px,#dbc6fc 100px,#d8c0fc 114px,#b986fb 132px,#ad72fa 137px,#8103ff 150px,#8d0dd3 157px,#a3197d 166px,#c42d2c 176px,#d64307 183px,#ee6b00 195px,#fc9800 205px,#ffd600 224px,#ffe000 235px,#ffde00 249px,#fd9c00 276px,#ed6900 291px)"></div><div style="top:350px;background:linear-gradient(90deg,#dcc7fc 0px,#c7a1fb 8px,#a155fb 22px,#8f28fd 38px,#8f26fd 46px,#9e4efb 56px,#b178fa 63px,#d1b3fb 72px,#dac4fc 82px,#d8c0fc 100px,#d3b7fb 114px,#b178fa 133px,#a560fa 138px,#8000fd 150px,#9211c2 159px,#aa1c66 169px,#c62f29 177px,#d44008 183px,#ef6c00 196px,#fc9700 206px,#ffd100 226px,#ffd600 237px,#ffd400 249px,#fb8f00 279px,#ec6500 291px)"></div><div style="top:351px;background:linear-gradient(90deg,#dcc6fc 0px,#c7a1fb 8px,#a157fb 22px,#902bfd 38px,#9029fd 46px,#9f50fb 56px,#b179fa 63px,#d0b2fb 72px,#d8c1fc 82px,#d4b9fc 100px,#ceadfb 114px,#a45ffa 137px,#8000ff 149px,#9010c9 158px,#a91c69 169px,#c42d2d 177px,#d64307 185px,#ed6600 196px,#fc9500 207px,#ffc800 227px,#ffcd00 245px,#ffae00 263px,#fb8e00 278px,#ea6000 291px)"></div><div style="top:352px;background:linear-gradient(90deg,#dbc5fc 0px,#c7a1fb 8px,#a259fb 22px,#922efd 38px,#912cfd 46px,#a258fb 57px,#b27afa 63px,#d0b0fb 72px,#d7bdfc 82px,#d0b1fb 100px,#c8a3fb 114px,#a054fb 137px,#8102ff 148px,#8b0bda 155px,#9914a5 162px,#b22155 172px,#c73026 179px,#d64307 186px,#ec6600 197px,#fc9300 208px,#ffbf00 229px,#ffc000 249px,#fb8c00 277px,#e75c01 291px)"></div><div style="top:353px;background:linear-gradient(90deg,#dbc5fc 0px,#c59cfb 9px,#a35afb 22px,#9331fd 38px,#9230fd 46px,#a35afb 57px,#b37cfa 63px,#cfaffb 72px,#d5b9fc 82px,#cca9fb 100px,#c297fb 114px,#9c4afb 137px,#8102ff 147px,#8b0bd8 155px,#a11884 166px,#c52d2b 179px,#d54208 187px,#ec6500 198px,#fb8f00 209px,#ffb500 230px,#ffb400 249px,#fa8a00 276px,#e55802 291px)"></div><div style="top:354px;background:linear-gradient(90deg,#dac4fc 0px,#c297fb 10px,#a45dfb 22px,#9435fc 38px,#9434fd 46px,#a561fa 58px,#ccabfb 71px,#d2b5fb 82px,#c7a1fb 100px,#bb8bfb 114px,#9537fc 138px,#8001ff 146px,#8c0cd5 155px,#b12057 173px,#c62f28 181px,#d64207 189px,#ed6700 200px,#fb8e00 211px,#ffa700 227px,#ffa700 251px,#fa8900 274px,#e35503 290px,#e15403 291px)"></div><div style="top:355px;background:linear-gradient(90deg,#dac3fc 0px,#bb8afb 13px,#a45ffa 22px,#9639fc 38px,#9638fc 46px,#a867fa 59px,#cca9fb 71px,#d0b1fb 82px,#c298fb 100px,#b27bfa 115px,#902afd 138px,#8000fe 145px,#8d0dd2 155px,#b22055 174px,#c52e2a 182px,#d64307 191px,#f98500 210px,#fda000 226px,#fea000 251px,#f98500 273px,#df5104 290px,#de4f04 291px)"></div><div style="top:356px;background:linear-gradient(90deg,#d9c2fc 0px,#b47dfa 16px,#a45ffa 23px,#983dfc 38px,#973cfc 46px,#a766fa 58px,#cba8fb 71px,#ceadfb 82px,#bd8efb 100px,#ab6dfa 115px,#8b1efe 138px,#8000fe 143px,#8e0ecf 155px,#b22056 175px,#cb351c 187px,#d64207 193px,#f57c00 210px,#fc9600 224px,#fd9a00 249px,#f78000 272px,#db4a06 291px)"></div><div style="top:357px;background:linear-gradient(90deg,#d8c1fc 0px,#b279fa 17px,#a561fa 23px,#9942fc 38px,#9941fc 46px,#a869fa 58px,#c8a2fb 70px,#ccaafb 76px,#c9a5fb 84px,#b681fa 101px,#a156fb 118px,#8610fe 138px,#8000fe 141px,#8f0fcc 155px,#b32152 177px,#ce3916 191px,#d84606 196px,#f57b00 213px,#fb9100 227px,#fb9000 252px,#f37700 272px,#d74507 291px)"></div><div style="top:358px;background:linear-gradient(90deg,#d8bffc 0px,#ad72fa 19px,#a155fb 30px,#9942fc 43px,#a45efa 55px,#c399fb 68px,#cba7fb 73px,#c8a3fb 82px,#b27afa 100px,#9b45fc 119px,#8101fd 139px,#9010c9 155px,#b5224e 180px,#d64307 197px,#f27400 214px,#fa8900 229px,#fa8700 253px,#ed6900 274px,#d43f09 291px)"></div><div style="top:359px;background:linear-gradient(90deg,#d7befc 0px,#a766fa 23px,#9d4afb 39px,#9c4afb 46px,#a766fa 56px,#c195fb 67px,#c9a5fb 73px,#c49cfb 83px,#aa6cfa 101px,#973bfc 118px,#8000fe 136px,#9010c9 154px,#9d1693 166px,#a51a73 173px,#c93322 193px,#d64307 199px,#f07000 217px,#f78100 233px,#f57d00 253px,#e75c01 276px,#d23e0d 289px,#cf3a13 291px)"></div><div style="top:360px;background:linear-gradient(90deg,#d6bdfc 0px,#a867fa 24px,#9d4bfb 42px,#a561fa 54px,#c195fb 67px,#c8a3fb 73px,#c196fb 83px,#9331fd 117px,#8000fe 131px,#8e0ed0 151px,#9b159c 164px,#a3197c 173px,#c62f28 194px,#d54207 201px,#ef6c00 221px,#f37500 238px,#f17100 254px,#e15203 277px,#d23d0d 286px,#cb351d 291px)"></div><div style="top:361px;background:linear-gradient(90deg,#d6bcfc 0px,#a96afa 24px,#9f50fb 42px,#a868fa 55px,#c195fb 67px,#c7a1fb 73px,#be91fb 83px,#8a1bfe 119px,#8101fd 127px,#8e0ecf 149px,#9311be 154px,#9b159e 164px,#a11886 173px,#c32c2f 195px,#d54207 204px,#ec6600 225px,#ee6900 251px,#dc4b05 277px,#d23d0d 283px,#c73027 291px)"></div><div style="top:362px;background:linear-gradient(90deg,#d5bafc 0px,#ab6efa 24px,#a155fb 42px,#aa6cfa 55px,#c094fb 66px,#c59dfb 74px,#bb8bfb 83px,#8204ff 121px,#8404f1 129px,#9211c1 152px,#9914a5 160px,#9e168f 173px,#b22154 190px,#d33f0a 206px,#e75c01 226px,#e85d01 253px,#d74407 277px,#cd3719 283px,#c22b31 291px)"></div><div style="top:363px;background:linear-gradient(90deg,#d4b9fc 0px,#ad71fa 24px,#a259fb 43px,#ac70fa 55px,#c195fb 66px,#c49bfb 74px,#b682fa 84px,#8101fd 119px,#9412b9 152px,#9914a3 160px,#9c1599 173px,#a11883 182px,#b92446 196px,#ca3420 204px,#d64207 212px,#e35603 233px,#df5004 259px,#d33e0b 276px,#bc263e 291px)"></div><div style="top:364px;background:linear-gradient(90deg,#d3b7fb 0px,#af74fa 24px,#a45efa 43px,#ae74fa 55px,#c195fb 66px,#c298fb 74px,#b37cfa 84px,#8000ff 115px,#9613ae 153px,#9a14a1 161px,#9914a3 173px,#9d1695 182px,#b42151 197px,#c42c2e 204px,#d44008 217px,#dc4c05 238px,#d84507 262px,#d13d0e 272px,#b6224d 291px)"></div><div style="top:365px;background:linear-gradient(90deg,#d3b6fb 0px,#b077fa 24px,#a663fa 43px,#b178fa 55px,#c196fb 65px,#c195fb 74px,#af76fa 84px,#850efe 108px,#8000fe 112px,#8f0fcc 136px,#9a159f 158px,#9713ac 175px,#9814a7 182px,#a11885 191px,#c12935 206px,#d13c0f 221px,#d64307 234px,#d23e0c 261px,#c62f29 277px,#af1f5c 291px)"></div><div style="top:366px;background:linear-gradient(90deg,#d2b4fb 0px,#b27bfa 24px,#a869fa 44px,#b077fa 52px,#c196fb 66px,#bf92fb 74px,#aa6bfa 85px,#8610fe 105px,#8101fd 109px,#9914a6 149px,#9b159b 158px,#9412b9 176px,#9412b9 182px,#9b159c 191px,#b01f5a 202px,#c32c2f 213px,#ce3916 230px,#ce3915 253px,#c22b31 275px,#ab1d65 289px,#a81b6b 291px)"></div><div style="top:367px;background:linear-gradient(90deg,#d1b3fb 0px,#b37dfa 25px,#ab6efa 44px,#b27bfa 51px,#b784fb 56px,#c196fb 66px,#bc8cfb 75px,#9f4ffb 90px,#8000ff 106px,#9914a4 143px,#9c1697 157px,#9613b1 168px,#9010ca 179px,#9211c1 187px,#9b159d 195px,#a71b6d 202px,#bf2739 216px,#c83124 232px,#c73026 254px,#bd273c 273px,#a2187e 291px)"></div><div style="top:368px;background:linear-gradient(90deg,#d0b1fb 0px,#b580fa 25px,#ae74fa 44px,#b580fa 50px,#b783fb 55px,#bd8efb 59px,#c297fb 66px,#ba89fb 75px,#9535fc 94px,#8000fe 104px,#9b159c 140px,#9e1691 156px,#9713ac 166px,#9010c9 173px,#8c0cd5 182px,#9010c9 191px,#9a14a2 198px,#aa1c68 208px,#bb2541 222px,#c12934 237px,#c02837 255px,#b6224d 272px,#a61a70 282px,#a0178a 288px,#9d1694 291px)"></div><div style="top:369px;background:linear-gradient(90deg,#cfb0fb 0px,#b783fb 25px,#b179fa 44px,#b885fb 50px,#b987fb 55px,#bf91fb 59px,#c297fb 66px,#b886fb 75px,#8f28fd 95px,#8000ff 102px,#9412b9 125px,#9e1690 140px,#9f178c 156px,#9613af 166px,#8f0fcc 172px,#8909df 182px,#8c0cd4 192px,#9111c2 197px,#a71b6e 212px,#b5224f 228px,#b72349 253px,#ac1d62 273px,#a41977 279px,#9b159c 286px,#9713aa 291px)"></div><div style="top:370px;background:linear-gradient(90deg,#ceaefb 0px,#b986fb 25px,#b47efa 44px,#ba8afb 50px,#bb8afb 55px,#c094fb 59px,#c297fb 66px,#b783fb 75px,#8c20fd 95px,#8101fd 101px,#9512b4 123px,#9f178d 136px,#a21882 144px,#a01787 156px,#9613b2 166px,#8e0ece 171px,#8606ea 182px,#8808e2 192px,#9211be 202px,#a21881 215px,#aa1c68 225px,#af1f5c 251px,#a51a72 271px,#9e1691 279px,#9512b3 286px,#9211bf 291px)"></div><div style="top:371px;background:linear-gradient(90deg,#cdacfb 0px,#ba89fb 25px,#b783fb 41px,#b885fb 45px,#bd8efb 50px,#bd8efb 55px,#c196fb 58px,#c297fb 66px,#b580fa 75px,#8b1efe 94px,#8000fe 99px,#9412b8 119px,#9f178c 131px,#a41978 141px,#a2187f 155px,#9814a9 164px,#8d0dd3 171px,#8303f3 181px,#8404f2 191px,#9211c2 207px,#9b159d 216px,#a21880 228px,#a61a71 250px,#a11882 264px,#9b159d 276px,#9010c9 286px,#8e0ed0 291px)"></div><div style="top:372px;background:linear-gradient(90deg,#cdabfb 0px,#c59dfb 11px,#bc8cfb 26px,#ba88fb 41px,#bb8afb 45px,#bf93fb 50px,#be91fb 55px,#c399fb 58px,#c298fb 66px,#b47dfa 75px,#8b1cfe 93px,#8101fd 98px,#9311bc 116px,#a11886 129px,#a71b6e 140px,#a41976 154px,#9914a3 163px,#8c0cd7 171px,#8101fd 181px,#8102ff 190px,#8b0bd9 206px,#9a14a2 226px,#9c1697 241px,#9d1693 253px,#9a159f 264px,#9412b9 277px,#8d0dd4 284px,#8a0adc 291px)"></div><div style="top:373px;background:linear-gradient(90deg,#cca9fb 0px,#c59efb 10px,#bd8ffb 27px,#bd8efb 40px,#bc8cfb 44px,#c297fb 50px,#c094fb 55px,#c49cfb 58px,#c298fb 66px,#b27afa 75px,#8815fe 93px,#8102ff 96px,#9512b6 115px,#a4197a 129px,#aa1c67 139px,#a61a70 154px,#9914a3 163px,#8a0adb 171px,#8001ff 179px,#8713fe 183px,#8a19fe 190px,#8101fd 198px,#8e0ed0 217px,#9512b5 237px,#9613b0 253px,#9312ba 264px,#8c0cd7 280px,#8808e5 287px,#8707e8 291px)"></div><div style="top:374px;background:linear-gradient(90deg,#cba8fb 0px,#c59efb 10px,#bf91fb 28px,#bf93fb 40px,#be91fb 44px,#c59dfb 49px,#c297fb 55px,#c69ffb 58px,#c298fb 66px,#b077fa 75px,#8815fe 92px,#8001ff 95px,#9412b6 113px,#a61a71 128px,#ad1e60 141px,#a61a6f 155px,#9914a4 163px,#8909df 171px,#8000fd 177px,#8b1efe 181px,#9230fd 188px,#8c1efe 196px,#8000ff 203px,#8a0add 220px,#8e0ece 241px,#8f0fcc 260px,#8909e2 279px,#8404f1 287px,#8303f4 291px)"></div><div style="top:375px;background:linear-gradient(90deg,#caa6fb 0px,#c59dfb 9px,#c094fb 29px,#c297fb 40px,#c095fb 44px,#c7a1fb 49px,#c39afb 55px,#c7a1fb 58px,#c298fb 66px,#af75fa 75px,#860ffe 92px,#8001ff 94px,#9111c2 109px,#a71a6e 126px,#b02059 140px,#a91c69 154px,#9f178b 160px,#8a0adc 170px,#8000fe 176px,#9029fd 180px,#9a42fc 187px,#9a43fc 191px,#8e25fd 200px,#8000fe 210px,#8808e2 232px,#8a0add 254px,#8707e7 274px,#8101fd 287px,#8000ff 291px)"></div><div style="top:376px;background:linear-gradient(90deg,#c9a5fb 0px,#c59dfb 9px,#c297fb 29px,#c49afb 40px,#c298fb 44px,#c9a5fb 49px,#c59cfb 55px,#c8a3fb 58px,#c298fb 66px,#ae72fa 75px,#8610fe 91px,#8102ff 93px,#9211c1 108px,#a61a71 123px,#b32154 138px,#ad1e60 151px,#a71b6e 156px,#9914a4 163px,#8909df 170px,#8000fe 175px,#9537fc 180px,#a155fb 187px,#a157fb 191px,#983dfc 200px,#8a19fe 210px,#8000fe 220px,#8606ea 252px,#8202f9 278px,#8000ff 280px,#8712fe 285px,#8713fe 291px)"></div><div style="top:377px;background:linear-gradient(90deg,#c9a4fb 0px,#c59dfb 9px,#c39afb 30px,#c69efb 40px,#c49cfb 44px,#cba9fb 49px,#c69ffb 55px,#caa5fb 58px,#c69efb 65px,#b682fa 71px,#a053fb 80px,#8101fd 93px,#9211c0 107px,#a61a70 121px,#b42151 134px,#b5224f 143px,#aa1c66 155px,#9e1691 161px,#8808e2 170px,#8101fd 174px,#912dfd 178px,#9d4bfb 181px,#a869fa 188px,#a663fa 195px,#9537fc 209px,#8e24fd 216px,#8206ff 232px,#8202fa 250px,#8206ff 275px,#8916fe 280px,#8f27fd 285px,#8e26fd 291px)"></div><div style="top:378px;background:linear-gradient(90deg,#c8a2fb 0px,#c49cfb 8px,#c39afb 20px,#c7a1fb 40px,#c69ffb 44px,#cdacfb 49px,#c7a1fb 55px,#cba7fb 58px,#c69efb 65px,#b681fa 71px,#9c4afb 81px,#8000fe 92px,#9211c0 106px,#a11882 116px,#aa1c68 122px,#b7234b 135px,#b7234a 143px,#ab1d64 155px,#a01786 160px,#8a0adc 169px,#8104ff 174px,#9f51fb 180px,#b37cfa 188px,#b27bfa 194px,#9f4ffb 209px,#983dfc 216px,#8c1efe 234px,#8610fe 250px,#860ffe 259px,#8d21fd 278px,#9639fc 284px,#9537fc 291px)"></div><div style="top:379px;background:linear-gradient(90deg,#c7a1fb 0px,#c49bfb 8px,#c49bfb 20px,#caa6fb 39px,#c8a2fb 44px,#cfaffb 49px,#c8a3fb 55px,#cca9fb 58px,#c69ffb 65px,#b57ffa 71px,#9b47fc 81px,#8001ff 91px,#9211c2 105px,#a01786 114px,#a91c69 120px,#b82448 133px,#ba2543 141px,#af1f5d 154px,#a3197c 159px,#8909de 169px,#8000fe 173px,#a35cfb 180px,#ba89fb 187px,#bf92fb 190px,#b783fb 199px,#a96afa 208px,#a156fb 215px,#9435fc 236px,#912cfd 248px,#8f28fd 253px,#9029fd 263px,#9434fc 278px,#9d4afb 284px,#9b46fc 291px)"></div><div style="top:380px;background:linear-gradient(90deg,#c7a0fb 0px,#c49bfb 8px,#c59dfb 19px,#cba9fb 39px,#c9a5fb 44px,#d0b1fb 49px,#c9a5fb 55px,#cdabfb 58px,#c69ffb 65px,#b682fa 70px,#a664fa 76px,#8000fd 91px,#9110c4 104px,#a11885 113px,#ab1d64 120px,#ba2543 133px,#bc263f 141px,#b01f5a 154px,#a3197a 159px,#8c0cd7 168px,#8103ff 173px,#a766fa 180px,#c094fb 186px,#c8a2fb 190px,#c297fb 199px,#b581fa 208px,#ab6dfa 214px,#9d4bfb 237px,#9940fc 249px,#983efc 253px,#983dfc 263px,#9941fc 272px,#9d4afb 279px,#a35cfb 285px,#a155fb 291px)"></div><div style="top:381px;background:linear-gradient(90deg,#c69ffb 0px,#c49bfb 8px,#c59efb 19px,#cdabfb 39px,#cba7fb 44px,#d1b4fb 49px,#caa6fb 55px,#cdacfb 58px,#c69ffb 65px,#b681fa 70px,#a662fa 76px,#8001ff 90px,#9211bf 104px,#a21880 113px,#af1f5c 121px,#bd263d 134px,#bd263c 142px,#b12058 154px,#a41979 159px,#8b0bd9 168px,#8101fc 172px,#8917fe 174px,#ad71fa 180px,#c7a1fb 186px,#d0b1fb 190px,#cba9fb 199px,#c195fb 208px,#b783fb 214px,#a55ffa 236px,#a258fb 247px,#9f51fb 253px,#9f50fb 263px,#a052fb 272px,#a35afb 279px,#a96afa 285px,#a561fa 291px)"></div><div style="top:382px;background:linear-gradient(90deg,#c69efb 0px,#c39afb 8px,#c69efb 19px,#ceadfb 39px,#cca9fb 44px,#d3b6fb 49px,#cba8fb 55px,#ceadfb 58px,#c6a0fb 65px,#b580fa 70px,#a561fa 76px,#8000fe 90px,#9111c3 103px,#a3197a 113px,#b6234c 125px,#c02836 138px,#b82447 149px,#ac1d62 156px,#a21881 160px,#8e0ed1 167px,#8000fe 172px,#b27afa 180px,#ceadfb 186px,#d7befc 190px,#d4b8fc 199px,#cdabfb 207px,#c196fb 214px,#ae72fa 238px,#a765fa 249px,#a662fa 253px,#a560fa 263px,#a662fa 271px,#a663fa 278px,#b178fa 284px,#ab6dfa 291px)"></div><div style="top:383px;background:linear-gradient(90deg,#c59dfb 0px,#c398fb 7px,#c69ffb 18px,#ceadfb 36px,#cdabfb 41px,#cdabfb 44px,#d4b8fc 49px,#cca9fb 55px,#ceaefb 58px,#c6a0fb 65px,#b57ffa 70px,#a55ffa 76px,#8101fd 90px,#9211c0 103px,#a3197c 112px,#b5224f 123px,#c02835 135px,#bf2739 144px,#b01f5a 155px,#a21880 160px,#8d0dd1 167px,#8101ff 172px,#b682fa 180px,#d3b7fb 186px,#ddc9fc 190px,#dbc6fc 199px,#d5bafc 207px,#caa6fb 214px,#b784fb 238px,#b178fa 248px,#ad71fa 253px,#ac6ffa 258px,#ab6efa 263px,#ad71fa 270px,#ac70fa 278px,#b783fb 283px,#b681fa 286px,#b178fa 291px)"></div><div style="top:384px;background:linear-gradient(90deg,#c59dfb 0px,#c298fb 7px,#c6a0fb 17px,#ccabfb 33px,#d0b0fb 39px,#cdacfb 44px,#d4b9fc 49px,#ccaafb 55px,#cfaffb 58px,#c7a0fb 65px,#b47ffa 70px,#a45efa 76px,#8101ff 89px,#9110c5 102px,#a41978 112px,#ba2543 126px,#c22a32 138px,#bc2640 148px,#b02059 155px,#a21880 160px,#8d0dd2 167px,#8202f9 171px,#8204ff 172px,#b077fa 179px,#c094fb 181px,#dbc6fc 187px,#e2d2fc 190px,#e0cffc 200px,#dcc7fc 207px,#d1b4fb 214px,#bf92fb 238px,#b986fb 248px,#b57ffa 253px,#b37cfa 258px,#b37bfa 263px,#b47dfa 270px,#b37bfa 278px,#bd8efb 283px,#bb8bfb 286px,#b681fa 291px)"></div><div style="top:385px;background:linear-gradient(90deg,#c49cfb 0px,#c298fb 7px,#c7a0fb 17px,#cdacfb 33px,#d0b1fb 39px,#ceadfb 44px,#d5bafc 49px,#cdabfb 55px,#cfb0fb 58px,#c7a0fb 65px,#b47efa 70px,#a157fb 77px,#8000ff 89px,#9111c3 102px,#a51976 112px,#bb2540 126px,#c32b30 139px,#bb2541 149px,#ae1e5f 156px,#a2187f 160px,#8d0dd2 167px,#8202fa 171px,#8307ff 172px,#b37cfa 179px,#c399fb 181px,#dfccfc 187px,#e5d7fc 190px,#e3d3fc 206px,#d7befc 214px,#c59dfb 239px,#bc8cfb 250px,#bb8afb 253px,#b987fb 258px,#b886fb 263px,#b987fb 270px,#b784fb 278px,#c196fb 283px,#c093fb 286px,#ba88fb 291px)"></div><div style="top:386px;background:linear-gradient(90deg,#c49cfb 0px,#c298fb 7px,#c7a0fb 17px,#cdacfb 33px,#d1b2fb 39px,#ceaefb 44px,#d5bbfc 49px,#cdabfb 55px,#d0b0fb 58px,#c7a0fb 65px,#b47efa 70px,#a156fb 77px,#8000fe 89px,#9211c1 102px,#a51a74 112px,#bd263c 127px,#c32c2f 139px,#bc2640 149px,#ae1e5e 156px,#a2187f 160px,#8d0dd3 167px,#8101fb 171px,#8308ff 172px,#b57ffa 179px,#c59dfb 181px,#e2d1fc 187px,#e7dafd 192px,#e3d3fc 208px,#dbc6fc 214px,#c9a5fb 239px,#c094fb 250px,#bf92fb 253px,#bd8efb 258px,#bc8dfb 263px,#bd8efb 270px,#bb8bfb 278px,#c49cfb 283px,#c399fb 286px,#bc8dfb 291px)"></div><div style="top:387px;background:linear-gradient(90deg,#c49bfb 0px,#c297fb 7px,#c7a0fb 17px,#ceadfb 33px,#d1b3fb 39px,#cfaffb 44px,#d6bbfc 49px,#cdacfb 55px,#d0b1fb 58px,#c7a0fb 65px,#b47efa 70px,#a156fb 77px,#8000fe 89px,#9211c0 102px,#a51a72 112px,#be273c 127px,#c32c2e 139px,#bc263f 149px,#ae1e5e 156px,#a2187f 160px,#8d0dd3 167px,#8101fb 171px,#8409ff 172px,#b681fa 179px,#c69ffb 181px,#dfcdfc 186px,#e8dbfd 190px,#e6d8fc 207px,#ddc9fc 215px,#ccaafb 239px,#c399fb 250px,#c196fb 253px,#bf93fb 258px,#bf91fb 263px,#bf92fb 270px,#bd8efb 278px,#c69ffb 283px,#c59cfb 286px,#be91fb 291px)"></div><div style="top:388px;background:linear-gradient(90deg,#c49bfb 0px,#c297fb 7px,#c7a0fb 17px,#ceaefb 34px,#d1b3fb 39px,#cfaffb 44px,#d6bbfc 49px,#cdacfb 55px,#d0b1fb 58px,#c7a0fb 65px,#b47efa 70px,#a156fb 77px,#8000fe 89px,#9211c0 102px,#a61a72 112px,#be273b 127px,#c42c2e 139px,#bc263f 149px,#ae1e5d 156px,#a2187e 160px,#8d0dd3 167px,#8101fb 171px,#840aff 172px,#b682fa 179px,#c7a0fb 181px,#e0cefc 186px,#e8dcfd 190px,#e6d9fc 207px,#decafc 216px,#cdacfb 238px,#c8a2fb 247px,#c195fb 252px,#c298fb 256px,#bf92fb 262px,#c195fb 269px,#be90fb 278px,#c7a0fb 283px,#c59dfb 286px,#bf92fb 291px)"></div><div style="top:389px;background:linear-gradient(90deg,#c49bfb 0px,#c297fb 7px,#c7a0fb 17px,#ceadfb 33px,#d1b3fb 39px,#cfaffb 44px,#d6bbfc 49px,#cdacfb 55px,#d0b1fb 58px,#c7a0fb 65px,#b47efa 70px,#a156fb 77px,#8000fe 89px,#9211c0 102px,#a51a72 112px,#be273c 127px,#c32c2e 139px,#bc263f 149px,#ae1e5e 156px,#a2187f 160px,#8d0dd3 167px,#8101fb 171px,#8409ff 172px,#b681fa 179px,#c69ffb 181px,#dfcdfc 186px,#e8dbfd 190px,#e6d8fc 207px,#ddc9fc 215px,#ccaafb 239px,#c399fb 250px,#c196fb 253px,#bf93fb 258px,#bf91fb 263px,#bf92fb 270px,#bd8efb 278px,#c69ffb 283px,#c59cfb 286px,#be91fb 291px)"></div><div style="top:390px;background:linear-gradient(90deg,#c49cfb 0px,#c298fb 7px,#c7a0fb 17px,#cdacfb 33px,#d1b2fb 39px,#ceaefb 44px,#d5bbfc 49px,#cdabfb 55px,#d0b0fb 58px,#c7a0fb 65px,#b47efa 70px,#a156fb 77px,#8000fe 89px,#9211c1 102px,#a51a74 112px,#bd263c 127px,#c32c2f 139px,#bc2640 149px,#ae1e5e 156px,#a2187f 160px,#8d0dd3 167px,#8101fb 171px,#8308ff 172px,#b57ffa 179px,#c59dfb 181px,#e2d1fc 187px,#e7dafd 192px,#e3d3fc 208px,#dbc6fc 214px,#c9a5fb 239px,#c094fb 250px,#bf92fb 253px,#bd8efb 258px,#bc8dfb 263px,#bd8efb 270px,#bb8bfb 278px,#c49cfb 283px,#c399fb 286px,#bd8dfb 291px)"></div><div style="top:391px;background:linear-gradient(90deg,#c49cfb 0px,#c298fb 7px,#c7a0fb 17px,#cdacfb 33px,#d0b1fb 39px,#ceadfb 44px,#d5bafc 49px,#cdabfb 55px,#cfb0fb 58px,#c7a0fb 65px,#b47efa 70px,#a157fb 77px,#8000ff 89px,#9111c3 102px,#a51976 112px,#bb2540 126px,#c32b30 139px,#bb2541 149px,#ae1e5f 156px,#a2187f 160px,#8d0dd2 167px,#8202fa 171px,#8307ff 172px,#b37cfa 179px,#c399fb 181px,#dfccfc 187px,#e5d7fc 190px,#e3d3fc 206px,#d7befc 214px,#c59dfb 239px,#bc8dfb 250px,#bb8afb 253px,#b987fb 258px,#b886fb 263px,#b987fb 270px,#b784fb 278px,#c196fb 283px,#c093fb 286px,#ba88fb 291px)"></div><div style="top:392px;background:linear-gradient(90deg,#c59dfb 0px,#c298fb 7px,#c7a0fb 17px,#cdabfb 33px,#d0b0fb 39px,#cdacfb 44px,#d4b9fc 49px,#ccaafb 55px,#cfaffb 58px,#c7a0fb 65px,#b57ffa 70px,#a45efa 76px,#8102ff 89px,#9110c5 102px,#a41979 112px,#ba2543 126px,#c22a32 138px,#bc2640 148px,#b02059 155px,#a21880 160px,#8d0dd2 167px,#8202f9 171px,#8204ff 172px,#b077fa 179px,#c094fb 181px,#dbc6fc 187px,#e2d2fc 190px,#e0cffc 200px,#dcc7fc 207px,#d1b4fb 214px,#bf92fb 238px,#b986fb 248px,#b57ffa 253px,#b37cfa 258px,#b37bfa 263px,#b47dfa 270px,#b37cfa 278px,#bd8efb 283px,#bb8cfb 286px,#b681fa 291px)"></div><div style="top:393px;background:linear-gradient(90deg,#c59dfb 0px,#c399fb 7px,#c69ffb 18px,#ceaefb 36px,#cdabfb 41px,#cdabfb 44px,#d4b8fc 49px,#cca9fb 55px,#cfaffb 58px,#c7a0fb 65px,#b580fa 70px,#a55ffa 76px,#8101fd 90px,#9211c0 103px,#a3197c 112px,#b5224f 123px,#c02835 135px,#bf2739 144px,#b01f5a 155px,#a21881 160px,#8d0dd1 167px,#8102ff 172px,#b682fa 180px,#d3b7fb 186px,#ddcafc 190px,#dbc6fc 199px,#d5bbfc 207px,#caa6fb 214px,#b784fb 238px,#b178fa 248px,#ad72fa 253px,#ac6ffa 258px,#ab6efa 263px,#ad71fa 270px,#ad70fa 278px,#b783fb 283px,#b682fa 286px,#b178fa 291px)"></div><div style="top:394px;background:linear-gradient(90deg,#c69efb 0px,#c49bfb 8px,#c69ffb 19px,#ceaefb 37px,#ccaafb 44px,#d3b6fb 49px,#cba8fb 55px,#ceaefb 58px,#c7a0fb 65px,#b580fa 70px,#a561fa 76px,#8000fe 90px,#9111c3 103px,#a3197b 113px,#b6234c 125px,#c02836 138px,#b82447 149px,#ac1d62 156px,#a21882 160px,#8d0dd1 167px,#8000fe 172px,#b27afa 180px,#ceadfb 186px,#d7bffc 190px,#d4b9fc 199px,#cdabfb 207px,#c196fb 214px,#ae72fa 238px,#a765fa 249px,#a662fa 253px,#a560fa 263px,#a662fa 271px,#a664fa 278px,#b178fa 284px,#ab6dfa 291px)"></div><div style="top:395px;background:linear-gradient(90deg,#c6a0fb 0px,#c49bfb 8px,#c69efb 19px,#cdacfb 37px,#cba8fb 44px,#d2b4fb 49px,#cba7fb 55px,#ceadfb 58px,#c7a0fb 65px,#b681fa 70px,#a662fa 76px,#8101ff 90px,#9211c0 104px,#a21880 113px,#af1f5d 121px,#bd263d 134px,#bd263c 142px,#b12058 154px,#a41979 159px,#8b0bd9 168px,#8101fc 172px,#8918fe 174px,#ad71fa 180px,#c8a2fb 186px,#d0b2fb 190px,#cca9fb 199px,#c196fb 208px,#b783fb 214px,#a55ffa 236px,#a258fb 247px,#9f51fb 253px,#9f50fb 263px,#a052fb 272px,#a35afb 279px,#a96bfa 285px,#a662fa 291px)"></div><div style="top:396px;background:linear-gradient(90deg,#c7a1fb 0px,#c49cfb 8px,#c59efb 19px,#ccaafb 37px,#caa6fb 44px,#d1b2fb 49px,#caa6fb 55px,#cdacfb 58px,#c7a0fb 65px,#b682fa 70px,#a664fa 76px,#8000fe 91px,#9110c4 104px,#a11886 113px,#ab1d64 120px,#ba2543 133px,#bc263f 141px,#b01f5b 154px,#a3197b 159px,#8b0bd8 168px,#8104ff 173px,#a867fa 180px,#c095fb 186px,#c8a3fb 190px,#c298fb 199px,#b681fa 208px,#ab6efa 214px,#9d4cfb 236px,#9a43fc 248px,#983efc 253px,#983efc 263px,#9942fc 272px,#9d4bfb 279px,#a35cfb 285px,#a155fb 291px)"></div><div style="top:397px;background:linear-gradient(90deg,#c8a2fb 0px,#c59dfb 8px,#c59dfb 20px,#cba8fb 39px,#c9a4fb 44px,#d0b0fb 49px,#c9a4fb 55px,#ccaafb 58px,#c7a0fb 65px,#b580fa 71px,#9c48fc 81px,#8102ff 91px,#9111c2 105px,#a01787 114px,#a91c69 120px,#b82448 133px,#ba2544 141px,#ae1e5d 154px,#a3197d 159px,#8909df 169px,#8000fe 173px,#a45dfb 180px,#bb8afb 187px,#bf93fb 190px,#b784fb 199px,#a96afa 208px,#a157fb 215px,#9535fc 236px,#912dfd 248px,#9029fd 253px,#902afd 263px,#9435fc 278px,#9d4bfb 284px,#9b47fc 291px)"></div><div style="top:398px;background:linear-gradient(90deg,#c9a4fb 0px,#c59efb 8px,#c49cfb 20px,#c8a3fb 40px,#c7a1fb 44px,#ceaefb 49px,#c8a3fb 55px,#cca9fb 58px,#c7a0fb 65px,#b682fa 71px,#9f52fb 80px,#8000ff 92px,#9211c1 106px,#a11883 116px,#ab1d65 123px,#b7234a 137px,#b32152 148px,#a91c6a 156px,#9b159b 162px,#8808e5 170px,#8101fb 173px,#8205ff 174px,#9f52fb 180px,#b279fa 187px,#b580fa 190px,#ab6efa 199px,#9f50fb 209px,#983efc 216px,#8c1ffd 234px,#8711fe 250px,#8610fe 259px,#8d22fd 278px,#963afc 284px,#9538fc 291px)"></div><div style="top:399px;background:linear-gradient(90deg,#caa6fb 0px,#c69ffb 9px,#c49cfb 29px,#c7a1fb 40px,#c69ffb 44px,#cdabfb 49px,#c7a1fb 55px,#cba7fb 58px,#c7a0fb 65px,#b784fb 71px,#a155fb 80px,#8000fe 93px,#9211c1 107px,#a61a72 121px,#b32152 134px,#b42250 143px,#aa1c67 155px,#9e1692 161px,#8808e3 170px,#8000fd 174px,#9b46fc 180px,#a867fa 187px,#ab6dfa 190px,#a155fb 200px,#9639fc 209px,#8e25fd 216px,#8307ff 232px,#8101fc 255px,#8307ff 275px,#8918fe 280px,#8f28fd 285px,#8f27fd 291px)"></div><div style="top:400px;background:linear-gradient(90deg,#cba8fb 0px,#c7a0fb 9px,#c39afb 29px,#c69efb 40px,#c49cfb 44px,#cba8fb 49px,#c69ffb 55px,#caa6fb 58px,#c49afb 66px,#af74fa 75px,#8711fe 91px,#8101fd 94px,#9111c2 108px,#a61a72 123px,#b12057 136px,#b12058 145px,#a71a6f 156px,#9613ae 164px,#8707e7 171px,#8000ff 175px,#9639fc 180px,#a156fb 187px,#a258fb 191px,#983ffc 200px,#8a1bfe 210px,#8000fd 221px,#8606eb 252px,#8101fa 278px,#8307ff 281px,#8713fe 286px,#8815fe 291px)"></div><div style="top:401px;background:linear-gradient(90deg,#ccaafb 0px,#c7a1fb 9px,#c298fb 29px,#c49bfb 40px,#c399fb 44px,#caa5fb 49px,#c59dfb 55px,#c9a4fb 58px,#c49bfb 66px,#b077fa 75px,#8611fe 92px,#8101fd 95px,#9311be 110px,#a61a6f 126px,#b01f5a 140px,#a91b6a 154px,#9d1695 161px,#8a0add 170px,#8001ff 176px,#902bfd 180px,#9a44fc 187px,#9a45fc 191px,#8f27fd 200px,#8000ff 210px,#8808e3 232px,#8a0ade 254px,#8707e8 274px,#8000fe 287px,#8102ff 291px)"></div><div style="top:402px;background:linear-gradient(90deg,#ceadfb 0px,#c8a2fb 10px,#c196fb 27px,#c298fb 40px,#c196fb 44px,#c8a2fb 49px,#c49bfb 55px,#c8a3fb 58px,#c49bfb 66px,#b27bfa 75px,#8917fe 92px,#8000fd 96px,#9512b3 114px,#a51a74 128px,#ad1e61 140px,#a61a71 155px,#9713ae 164px,#8909e0 171px,#8000ff 177px,#8d21fd 181px,#9333fd 188px,#8d21fd 196px,#8000fe 204px,#8a0ade 220px,#8e0ed0 241px,#8e0ecd 260px,#8808e3 279px,#8404f2 287px,#8303f5 291px)"></div><div style="top:403px;background:linear-gradient(90deg,#cfaffb 0px,#c9a3fb 10px,#c095fb 27px,#c195fb 40px,#bf93fb 44px,#c59dfb 50px,#c399fb 55px,#c7a1fb 58px,#c49cfb 66px,#b47efa 75px,#8918fe 93px,#8000fe 97px,#9412b9 115px,#a3197d 129px,#a91c69 139px,#a51a73 154px,#9814a6 163px,#8a0add 171px,#8101fd 178px,#8a19fe 184px,#8b1dfe 190px,#8101fb 199px,#8d0dd2 217px,#9412b8 237px,#9512b3 253px,#9311bd 264px,#8b0bd9 280px,#8707e6 287px,#8606ea 291px)"></div><div style="top:404px;background:linear-gradient(90deg,#d1b2fb 0px,#c9a4fb 11px,#bf93fb 26px,#be90fb 41px,#bf92fb 45px,#c39afb 50px,#c297fb 55px,#c69ffb 58px,#c59dfb 66px,#b682fa 75px,#8a1afe 94px,#8000ff 98px,#9412ba 117px,#a01786 130px,#a61a70 141px,#a4197a 154px,#9814a6 163px,#8b0bd9 171px,#8000ff 181px,#8309ff 189px,#8000fd 193px,#9814a7 225px,#9b159a 240px,#9c1696 253px,#9914a2 264px,#9311bc 277px,#8b0bd8 285px,#8a0ade 291px)"></div><div style="top:405px;background:linear-gradient(90deg,#d2b5fb 0px,#bf91fb 25px,#bc8dfb 41px,#bd8efb 45px,#c297fb 50px,#c195fb 55px,#c59dfb 58px,#c59dfb 66px,#b885fb 75px,#8b1cfe 95px,#8000fe 100px,#9412b8 120px,#9f178d 132px,#a3197c 141px,#a11882 155px,#9713ad 164px,#8c0cd5 171px,#8303f6 181px,#8303f4 191px,#9211c0 208px,#9a14a1 216px,#a11884 228px,#a51975 250px,#a11886 264px,#9a15a0 276px,#8f0fca 285px,#8d0dd2 291px)"></div><div style="top:406px;background:linear-gradient(90deg,#d4b8fc 0px,#be90fb 25px,#ba89fb 41px,#bb8bfb 45px,#c094fb 50px,#bf93fb 55px,#c49cfb 59px,#c59efb 66px,#ba89fb 75px,#8e25fd 95px,#8101ff 101px,#9512b4 124px,#a01789 139px,#a01789 155px,#9713ac 164px,#8d0dd1 171px,#8505ed 182px,#8808e5 192px,#9412b9 204px,#a11885 215px,#a81b6b 225px,#ae1e5f 251px,#a51a74 269px,#9e168f 278px,#9412b8 286px,#9110c4 291px)"></div><div style="top:407px;background:linear-gradient(90deg,#d5bbfc 0px,#bd8efb 25px,#b885fb 44px,#be90fb 50px,#be91fb 55px,#c39afb 59px,#c69ffb 66px,#bc8dfb 75px,#922efd 95px,#8000ff 103px,#9b159d 137px,#9e1690 147px,#9e1691 156px,#9512b4 166px,#8e0ecf 172px,#8808e3 182px,#8b0bd8 192px,#9211c1 198px,#a71a6e 213px,#b42151 229px,#b6234c 253px,#ab1c66 273px,#a51975 278px,#9a14a1 286px,#9613af 291px)"></div><div style="top:408px;background:linear-gradient(90deg,#d7befc 0px,#bc8cfb 25px,#b682fa 44px,#bc8dfb 50px,#bd8efb 55px,#c298fb 59px,#c69ffb 66px,#bf91fb 75px,#9d4bfb 91px,#8000ff 105px,#9914a2 140px,#9c1697 156px,#9512b2 166px,#8f0fcb 172px,#8b0bd8 182px,#8f0fca 192px,#9a14a1 199px,#aa1c68 209px,#bb2541 224px,#c02837 240px,#bf2739 254px,#b5224f 271px,#a61a70 281px,#9f178d 287px,#9b159a 291px)"></div><div style="top:409px;background:linear-gradient(90deg,#d9c1fc 0px,#bb8bfb 24px,#b47efa 44px,#ba89fb 51px,#be91fb 56px,#c7a0fb 66px,#c195fb 75px,#a765fa 87px,#8101fd 108px,#9814a9 144px,#9b159e 157px,#9412b8 168px,#8f0fca 176px,#8f0fcd 183px,#9311be 190px,#9c1696 197px,#a71b6d 203px,#bd263d 216px,#c52e2a 229px,#c63028 253px,#bd263e 272px,#a11885 291px)"></div><div style="top:410px;background:linear-gradient(90deg,#dbc5fc 0px,#bb8afb 24px,#b27bfa 44px,#b886fb 51px,#bd8efb 56px,#c7a1fb 66px,#c39afb 75px,#ad71fa 86px,#8000ff 110px,#8f0fca 135px,#9914a3 156px,#9613b1 167px,#9211bf 175px,#9211c0 182px,#9914a3 191px,#a51975 198px,#c12934 212px,#cc371a 229px,#cd3818 253px,#c12935 275px,#aa1c67 288px,#a61a6f 291px)"></div><div style="top:411px;background:linear-gradient(90deg,#ddc8fc 0px,#ba88fb 24px,#b078fa 44px,#b784fb 52px,#c8a2fb 66px,#c7a1fb 74px,#b681fa 84px,#8000fe 114px,#9814a8 157px,#9613b0 168px,#9512b4 180px,#9f178d 191px,#bc263e 205px,#cc361b 217px,#d44108 232px,#d23e0d 257px,#c52e2a 276px,#ad1e61 291px)"></div><div style="top:412px;background:linear-gradient(90deg,#deccfc 0px,#b987fb 24px,#ae73fa 43px,#bb8afb 56px,#c8a3fb 66px,#c9a5fb 74px,#ba88fb 84px,#8001ff 117px,#9412b7 153px,#9813aa 161px,#9713ac 173px,#9a159e 182px,#aa1c68 194px,#c22a32 204px,#d33f09 218px,#db4a05 241px,#d33f0a 267px,#c83223 278px,#b32153 291px)"></div><div style="top:413px;background:linear-gradient(90deg,#e0cffc 0px,#b886fb 24px,#ac6ffa 43px,#b988fb 56px,#c9a4fb 67px,#cba9fb 74px,#be90fb 84px,#8000ff 121px,#9211bf 153px,#9713ac 161px,#9914a3 173px,#9f178d 182px,#b6234d 196px,#c62f28 203px,#d54108 213px,#e15303 234px,#dd4d05 260px,#d33f0a 274px,#b92445 291px)"></div><div style="top:414px;background:linear-gradient(90deg,#e2d2fc 0px,#b784fb 24px,#aa6cfa 42px,#b886fb 56px,#caa5fb 67px,#cdadfb 74px,#c297fb 84px,#9435fc 112px,#8000fd 126px,#9010c7 153px,#9713ae 161px,#9b159a 173px,#a41977 183px,#ba2543 195px,#d33e0b 207px,#e65a02 227px,#e55902 254px,#d54108 277px,#c02836 291px)"></div><div style="top:415px;background:linear-gradient(90deg,#e4d4fc 0px,#bf92fb 19px,#ae74fa 32px,#aa6bfa 45px,#b784fb 56px,#caa7fb 67px,#d0b0fb 74px,#c7a1fb 83px,#a45ffa 103px,#8b1dfe 122px,#8000fd 131px,#9010c9 154px,#9814a7 165px,#9e1692 173px,#bc263f 193px,#d54108 205px,#eb6200 225px,#ec6500 251px,#d94806 277px,#d13d0e 282px,#c42d2c 291px)"></div><div style="top:416px;background:linear-gradient(90deg,#e5d6fc 0px,#cdabfb 13px,#b783fb 23px,#a96bfa 38px,#a969fa 46px,#b682fa 56px,#cba8fb 67px,#d2b5fb 73px,#cba8fb 83px,#ae72fa 101px,#912dfd 122px,#8000fe 136px,#9010c7 156px,#a01789 173px,#c62f29 195px,#d54108 202px,#ee6a00 223px,#f17200 245px,#e45702 273px,#d33e0b 284px,#c83223 291px)"></div><div style="top:417px;background:linear-gradient(90deg,#e6d8fc 0px,#d8c0fc 8px,#b682fa 23px,#a868fa 37px,#a766fa 46px,#b580fa 56px,#d3b6fb 71px,#d0b1fb 82px,#b682fa 100px,#9639fc 123px,#8000fe 139px,#8f0fcb 156px,#a01787 172px,#ab1d64 179px,#ca341f 195px,#d64307 200px,#f06f00 219px,#f57c00 235px,#f37700 254px,#e35603 277px,#d23e0d 287px,#cd3719 291px)"></div><div style="top:418px;background:linear-gradient(90deg,#e7dafd 0px,#dcc6fc 7px,#b681fa 23px,#a765fa 37px,#a663fa 46px,#b47efa 56px,#d5b9fc 71px,#d3b7fb 82px,#bd8efb 100px,#a157fb 119px,#8814fe 138px,#8000fe 142px,#8e0ece 156px,#a01787 171px,#ad1e60 178px,#cf3a14 195px,#d64307 198px,#f17100 215px,#f98600 231px,#f88400 252px,#ec6400 274px,#d23d0d 290px,#d13c10 291px)"></div><div style="top:419px;background:linear-gradient(90deg,#e9dcfd 0px,#ddc8fc 7px,#b580fa 23px,#a663fa 37px,#a561fa 46px,#b37cfa 56px,#d7befc 72px,#d7befc 82px,#c39afb 100px,#af74fa 115px,#8d23fd 138px,#8000ff 144px,#8d0dd2 156px,#a21881 171px,#b12058 178px,#cb351d 191px,#d84507 197px,#f47800 214px,#fb8d00 228px,#fb8c00 252px,#f06f00 273px,#d44108 291px)"></div><div style="top:420px;background:linear-gradient(90deg,#eadefd 0px,#decbfc 7px,#b57ffa 23px,#a560fa 37px,#a45efa 46px,#b27afa 56px,#d9c1fc 72px,#dac4fc 82px,#c9a5fb 100px,#b784fb 115px,#9331fd 138px,#8000ff 146px,#8f0fcb 158px,#a3197b 171px,#c22b30 184px,#d74407 195px,#f47900 211px,#fc9300 225px,#fc9400 251px,#f47a00 272px,#d84607 291px)"></div><div style="top:421px;background:linear-gradient(90deg,#ebe0fd 0px,#dfcdfc 7px,#b47efa 23px,#a45efa 37px,#a35cfb 46px,#b179fa 56px,#c7a0fb 64px,#dbc4fc 72px,#ddc9fc 82px,#cfb0fb 100px,#bf93fb 115px,#983ffc 138px,#8000fd 148px,#9111c3 160px,#b5224f 177px,#cd3818 188px,#d64307 193px,#f57c00 209px,#fc9700 222px,#fd9f00 244px,#f98400 271px,#db4a05 291px)"></div><div style="top:422px;background:linear-gradient(90deg,#ece2fd 0px,#ddcafc 8px,#b47efa 23px,#a35cfb 37px,#a259fb 46px,#b077fa 56px,#c7a0fb 64px,#dcc7fc 72px,#e0cffc 82px,#d5bafc 100px,#c9a4fb 114px,#9d4cfb 138px,#8000fe 149px,#9311be 161px,#b5224f 176px,#ca341e 185px,#d64307 191px,#fa8700 210px,#fea200 226px,#fea200 251px,#fa8700 273px,#df5004 290px,#de4f04 291px)"></div><div style="top:423px;background:linear-gradient(90deg,#ede3fd 0px,#decbfc 8px,#b37dfa 23px,#a35afb 37px,#a257fb 46px,#b076fa 56px,#c7a0fb 64px,#decafc 72px,#e2d3fc 83px,#dac4fc 100px,#d0b2fb 114px,#a560fa 137px,#8000ff 150px,#9211c0 161px,#b42250 175px,#c73026 182px,#d54208 189px,#ed6800 200px,#fb8f00 211px,#ffa900 227px,#ffac00 248px,#fa8a00 274px,#e25503 290px,#e15303 291px)"></div><div style="top:424px;background:linear-gradient(90deg,#eee5fd 0px,#dfcdfc 8px,#b37cfa 23px,#a258fb 37px,#a155fb 46px,#af74fa 56px,#c7a0fb 64px,#dfccfc 72px,#e4d6fc 83px,#dfcdfc 100px,#d7befc 114px,#ab6dfa 137px,#8000ff 151px,#9412b9 162px,#b7234b 175px,#c93321 182px,#d64307 188px,#ec6400 198px,#fb9000 209px,#ffb800 231px,#ffb700 249px,#fa8a00 276px,#e45702 291px)"></div><div style="top:425px;background:linear-gradient(90deg,#efe6fd 0px,#e0cffc 8px,#b37bfa 23px,#a258fb 36px,#a054fb 46px,#ae73fa 56px,#c7a0fb 64px,#e0cffc 72px,#e6d8fc 84px,#dfcdfc 113px,#ba8afb 133px,#b279fa 137px,#8000fe 152px,#9412ba 162px,#b92447 175px,#d03b11 184px,#d94706 188px,#ee6a00 198px,#fc9300 208px,#ffc000 229px,#ffc100 249px,#fb8f00 276px,#e65b01 291px)"></div><div style="top:426px;background:linear-gradient(90deg,#f0e8fd 0px,#e1d0fc 8px,#b27bfa 23px,#a157fb 36px,#9f52fb 46px,#ae72fa 56px,#c399fb 63px,#e1d1fc 72px,#e8dbfd 84px,#e2d2fc 115px,#bf91fb 134px,#b37cfa 138px,#850dfe 151px,#8101fa 153px,#9312bb 162px,#b7234b 174px,#cb351c 181px,#d74407 186px,#ee6a00 197px,#fc9500 207px,#ffc800 227px,#ffcd00 245px,#ffad00 263px,#fb8d00 278px,#e95e00 291px)"></div><div style="top:427px;background:linear-gradient(90deg,#f1e9fe 0px,#e2d1fc 8px,#b27afa 23px,#a156fb 36px,#9f50fb 46px,#ad71fa 56px,#c399fb 63px,#e2d2fc 72px,#e9ddfd 85px,#e6d8fc 115px,#d7bffc 125px,#be90fb 137px,#9d4afb 145px,#8101fd 153px,#9311bb 162px,#b82447 174px,#cd3718 181px,#d64307 185px,#ee6900 196px,#fc9500 206px,#ffcf00 226px,#ffd500 236px,#ffd300 249px,#fb8e00 279px,#eb6100 291px)"></div><div style="top:428px;background:linear-gradient(90deg,#f1eafe 0px,#e2d2fc 8px,#b27afa 23px,#a054fb 36px,#9e4ffb 46px,#ac70fa 56px,#c399fb 63px,#e3d3fc 72px,#ebe0fd 84px,#e9ddfd 115px,#ddc8fc 125px,#c399fb 137px,#9f51fb 145px,#8001ff 153px,#9311bc 162px,#b5224e 173px,#c93320 179px,#d64307 184px,#ef6d00 196px,#fc9600 205px,#ffd600 225px,#ffdd00 236px,#ffdb00 249px,#fc9400 278px,#ec6500 291px)"></div><div style="top:429px;background:linear-gradient(90deg,#f2ebfe 0px,#e3d3fc 8px,#b37dfa 22px,#a053fb 36px,#9e4efb 46px,#ac6ffa 56px,#c399fb 63px,#e2d2fc 71px,#ece1fd 84px,#ece2fd 115px,#ddc9fc 127px,#c8a2fb 137px,#a257fb 145px,#8205ff 153px,#8404f2 155px,#9311bd 162px,#b22155 172px,#c83124 178px,#d54108 183px,#ee6b00 195px,#fc9500 204px,#ffda00 224px,#ffe500 235px,#ffe200 249px,#fea600 273px,#f17200 288px,#ed6800 291px)"></div><div style="top:430px;background:linear-gradient(90deg,#f3ecfe 0px,#e3d4fc 8px,#b37dfa 22px,#a052fb 36px,#9e4dfb 46px,#ac6ffa 56px,#c399fb 63px,#e3d3fc 71px,#ede3fd 84px,#efe5fd 115px,#dfcdfc 128px,#cca9fb 137px,#9d4bfb 147px,#8101fc 154px,#9311bd 162px,#b32153 172px,#c62f29 177px,#d64307 183px,#ef6e00 195px,#fc9800 204px,#ffde00 223px,#ffeb00 234px,#ffe800 249px,#ffb000 271px,#f47800 287px,#ee6a00 291px)"></div><div style="top:431px;background:linear-gradient(90deg,#f3ecfe 0px,#e0cffc 9px,#b37cfa 22px,#9f52fb 36px,#9d4cfb 46px,#ab6efa 56px,#c399fb 63px,#e3d3fc 71px,#eee4fd 84px,#f1e9fe 115px,#decbfc 130px,#cfaffb 137px,#9e4efb 147px,#8000fd 154px,#9311be 162px,#b42151 172px,#c73027 177px,#d54108 182px,#f07000 195px,#fd9e00 205px,#ffe300 223px,#ffee00 233px,#ffea00 250px,#ffb400 271px,#f37700 288px,#ef6d00 291px)"></div><div style="top:432px;background:linear-gradient(90deg,#f3edfe 0px,#e1cffc 9px,#b37cfa 22px,#9f51fb 36px,#9d4bfb 46px,#ab6efa 56px,#c399fb 63px,#e3d4fc 71px,#efe5fd 84px,#f3ecfe 114px,#dfccfc 131px,#d1b3fb 137px,#9b47fc 148px,#850efe 153px,#8000fe 154px,#9211be 162px,#b01f5a 171px,#c73125 177px,#d54208 182px,#f17200 195px,#fd9f00 205px,#ffe400 222px,#ffee00 229px,#ffec00 251px,#ffb800 271px,#f47800 288px,#f06e00 291px)"></div><div style="top:433px;background:linear-gradient(90deg,#f4edfe 0px,#e1d0fc 9px,#b37cfa 22px,#9f51fb 36px,#9d4bfb 46px,#ab6dfa 56px,#c399fb 63px,#e3d4fc 71px,#efe6fd 84px,#f4eefe 114px,#e1d0fc 131px,#d3b7fb 137px,#9c49fb 148px,#8610fe 153px,#8000ff 154px,#9211be 162px,#b01f59 171px,#c83124 177px,#d64307 182px,#f27300 195px,#fea100 205px,#ffe700 222px,#ffee00 228px,#ffec00 252px,#ffba00 271px,#f47a00 288px,#f06f00 291px)"></div><div style="top:434px;background:linear-gradient(90deg,#f4eefe 0px,#e1d0fc 9px,#b37cfa 22px,#9f51fb 36px,#9d4bfb 46px,#ab6dfa 56px,#c399fb 63px,#e4d4fc 71px,#efe7fd 84px,#f5effe 114px,#e0cefc 132px,#d4b9fc 137px,#9d4afb 148px,#8611fe 153px,#8101ff 154px,#9211bf 162px,#b02059 171px,#c52e2b 176px,#d44009 181px,#f27400 195px,#fea100 205px,#ffe600 221px,#ffee00 227px,#ffeb00 253px,#ffb700 272px,#f37700 289px,#f07000 291px)"></div></div>
<svg width="685" height="462" viewBox="0 0 685 462"><path d="M34.20,182.80C35.05,182.52 37.67,181.82 39.30,181.10C40.93,180.38 42.23,179.47 44.00,178.50C45.77,177.53 47.95,176.50 49.90,175.30C51.85,174.10 53.77,172.47 55.70,171.30C57.63,170.13 59.55,169.43 61.50,168.30C63.45,167.17 65.65,165.48 67.40,164.50C69.15,163.52 70.45,162.88 72.00,162.40C73.55,161.92 75.33,161.70 76.70,161.60C78.07,161.50 78.83,161.42 80.20,161.80C81.57,162.18 83.15,162.90 84.90,163.90C86.65,164.90 88.95,166.62 90.70,167.80C92.45,168.98 93.83,169.83 95.40,171.00C96.97,172.17 98.37,173.55 100.10,174.80C101.83,176.05 103.38,177.52 105.80,178.50C108.22,179.48 111.92,180.27 114.60,180.70C117.28,181.13 119.47,180.92 121.90,181.10C124.33,181.28 126.52,181.70 129.20,181.80C131.88,181.90 135.08,181.60 138.00,181.70C140.92,181.80 144.03,182.48 146.70,182.40C149.37,182.32 151.78,181.63 154.00,181.20C156.22,180.77 157.92,180.35 160.00,179.80C162.08,179.25 164.60,178.48 166.50,177.90C168.40,177.32 169.78,177.20 171.40,176.30C173.02,175.40 174.58,173.80 176.20,172.50C177.82,171.20 179.33,170.12 181.10,168.50C182.87,166.88 184.90,165.10 186.80,162.80C188.70,160.50 190.47,157.42 192.50,154.70C194.53,151.98 197.10,148.95 199.00,146.50C200.90,144.05 202.28,142.43 203.90,140.00C205.52,137.57 207.08,134.60 208.70,131.90C210.32,129.20 211.97,126.37 213.60,123.80C215.23,121.23 217.02,118.67 218.50,116.50C219.98,114.33 220.90,112.95 222.50,110.80C224.10,108.65 225.98,106.98 228.10,103.60C230.22,100.22 233.02,94.27 235.20,90.50C237.38,86.73 239.02,83.98 241.20,81.00C243.38,78.02 246.12,74.92 248.30,72.60C250.48,70.28 252.35,68.57 254.30,67.10C256.25,65.63 257.93,64.65 260.00,63.80C262.07,62.95 264.58,62.20 266.70,62.00C268.82,61.80 270.68,62.60 272.70,62.60C274.72,62.60 277.03,61.95 278.80,62.00C280.57,62.05 281.53,62.20 283.30,62.90C285.07,63.60 287.37,65.15 289.40,66.20C291.43,67.25 293.48,68.07 295.50,69.20C297.52,70.33 299.73,71.78 301.50,73.00C303.27,74.22 304.58,74.98 306.10,76.50C307.62,78.02 308.83,79.77 310.60,82.10C312.37,84.43 314.93,87.97 316.70,90.50C318.47,93.03 319.78,95.33 321.20,97.30C322.62,99.27 324.53,101.47 325.20,102.30 L325.20,182.70 L34.20,182.70 Z" fill="#f1e5f6"/>
<path d="M34.20,182.80C35.05,182.52 37.67,181.82 39.30,181.10C40.93,180.38 42.23,179.47 44.00,178.50C45.77,177.53 47.95,176.50 49.90,175.30C51.85,174.10 53.77,172.47 55.70,171.30C57.63,170.13 59.55,169.43 61.50,168.30C63.45,167.17 65.65,165.48 67.40,164.50C69.15,163.52 70.45,162.88 72.00,162.40C73.55,161.92 75.33,161.70 76.70,161.60C78.07,161.50 78.83,161.42 80.20,161.80C81.57,162.18 83.15,162.90 84.90,163.90C86.65,164.90 88.95,166.62 90.70,167.80C92.45,168.98 93.83,169.83 95.40,171.00C96.97,172.17 98.37,173.55 100.10,174.80C101.83,176.05 103.38,177.52 105.80,178.50C108.22,179.48 111.92,180.27 114.60,180.70C117.28,181.13 119.47,180.92 121.90,181.10C124.33,181.28 126.52,181.70 129.20,181.80C131.88,181.90 135.08,181.60 138.00,181.70C140.92,181.80 144.03,182.48 146.70,182.40C149.37,182.32 151.78,181.63 154.00,181.20C156.22,180.77 157.92,180.35 160.00,179.80C162.08,179.25 164.60,178.48 166.50,177.90C168.40,177.32 169.78,177.20 171.40,176.30C173.02,175.40 174.58,173.80 176.20,172.50C177.82,171.20 179.33,170.12 181.10,168.50C182.87,166.88 184.90,165.10 186.80,162.80C188.70,160.50 190.47,157.42 192.50,154.70C194.53,151.98 197.10,148.95 199.00,146.50C200.90,144.05 202.28,142.43 203.90,140.00C205.52,137.57 207.08,134.60 208.70,131.90C210.32,129.20 211.97,126.37 213.60,123.80C215.23,121.23 217.02,118.67 218.50,116.50C219.98,114.33 220.90,112.95 222.50,110.80C224.10,108.65 225.98,106.98 228.10,103.60C230.22,100.22 233.02,94.27 235.20,90.50C237.38,86.73 239.02,83.98 241.20,81.00C243.38,78.02 246.12,74.92 248.30,72.60C250.48,70.28 252.35,68.57 254.30,67.10C256.25,65.63 257.93,64.65 260.00,63.80C262.07,62.95 264.58,62.20 266.70,62.00C268.82,61.80 270.68,62.60 272.70,62.60C274.72,62.60 277.03,61.95 278.80,62.00C280.57,62.05 281.53,62.20 283.30,62.90C285.07,63.60 287.37,65.15 289.40,66.20C291.43,67.25 293.48,68.07 295.50,69.20C297.52,70.33 299.73,71.78 301.50,73.00C303.27,74.22 304.58,74.98 306.10,76.50C307.62,78.02 308.83,79.77 310.60,82.10C312.37,84.43 314.93,87.97 316.70,90.50C318.47,93.03 319.78,95.33 321.20,97.30C322.62,99.27 324.53,101.47 325.20,102.30" fill="none" stroke="#7d16ad" stroke-width="1.5" stroke-linejoin="round"/>
<rect x="34.00" y="12.00" width="291.00" height="187.50" fill="none" stroke="#262626" stroke-width="1.3"/>
<line x1="41.30" y1="199.50" x2="41.30" y2="196.00" stroke="#262626" stroke-width="1"/>
<text x="41.30" y="210.30" font-size="10" text-anchor="middle" >1.6</text>
<line x1="69.72" y1="199.50" x2="69.72" y2="197.00" stroke="#262626" stroke-width="1"/>
<line x1="98.14" y1="199.50" x2="98.14" y2="196.00" stroke="#262626" stroke-width="1"/>
<text x="98.14" y="210.30" font-size="10" text-anchor="middle" >2.0</text>
<line x1="126.56" y1="199.50" x2="126.56" y2="197.00" stroke="#262626" stroke-width="1"/>
<line x1="154.98" y1="199.50" x2="154.98" y2="196.00" stroke="#262626" stroke-width="1"/>
<text x="154.98" y="210.30" font-size="10" text-anchor="middle" >2.4</text>
<line x1="183.40" y1="199.50" x2="183.40" y2="197.00" stroke="#262626" stroke-width="1"/>
<line x1="211.82" y1="199.50" x2="211.82" y2="196.00" stroke="#262626" stroke-width="1"/>
<text x="211.82" y="210.30" font-size="10" text-anchor="middle" >2.8</text>
<line x1="240.24" y1="199.50" x2="240.24" y2="197.00" stroke="#262626" stroke-width="1"/>
<line x1="268.66" y1="199.50" x2="268.66" y2="196.00" stroke="#262626" stroke-width="1"/>
<text x="268.66" y="210.30" font-size="10" text-anchor="middle" >3.2</text>
<line x1="297.08" y1="199.50" x2="297.08" y2="197.00" stroke="#262626" stroke-width="1"/>
<line x1="325.50" y1="199.50" x2="325.50" y2="196.00" stroke="#262626" stroke-width="1"/>
<text x="325.50" y="210.30" font-size="10" text-anchor="middle" >3.6</text>
<line x1="34.00" y1="182.70" x2="38.00" y2="182.70" stroke="#262626" stroke-width="1"/>
<text x="30.60" y="186.00" font-size="10" text-anchor="end" >0.0</text>
<line x1="34.00" y1="148.56" x2="38.00" y2="148.56" stroke="#262626" stroke-width="1"/>
<text x="30.60" y="151.86" font-size="10" text-anchor="end" >0.2</text>
<line x1="34.00" y1="114.42" x2="38.00" y2="114.42" stroke="#262626" stroke-width="1"/>
<text x="30.60" y="117.72" font-size="10" text-anchor="end" >0.4</text>
<line x1="34.00" y1="80.28" x2="38.00" y2="80.28" stroke="#262626" stroke-width="1"/>
<text x="30.60" y="83.58" font-size="10" text-anchor="end" >0.6</text>
<line x1="34.00" y1="46.14" x2="38.00" y2="46.14" stroke="#262626" stroke-width="1"/>
<text x="30.60" y="49.44" font-size="10" text-anchor="end" >0.8</text>
<line x1="34.00" y1="12.00" x2="38.00" y2="12.00" stroke="#262626" stroke-width="1"/>
<text x="30.60" y="15.30" font-size="10" text-anchor="end" >1.0</text>
<text x="179.50" y="223.30" font-size="10" text-anchor="middle" ><tspan font-style="italic">hv</tspan> (eV)</text>
<text transform="translate(8.40,105.75) rotate(-90)" font-size="10" text-anchor="middle">Extinction (1-T/T<tspan font-size="7" dy="2.2">0</tspan><tspan dy="-2.2">)</tspan></text>
<path d="M386.80,170.40C387.67,170.32 389.97,169.83 392.00,169.90C394.03,169.97 396.27,170.65 399.00,170.80C401.73,170.95 405.67,170.72 408.40,170.80C411.13,170.88 412.68,171.03 415.40,171.30C418.12,171.57 422.37,172.33 424.70,172.40C427.03,172.47 427.65,171.58 429.40,171.70C431.15,171.82 433.25,173.10 435.20,173.10C437.15,173.10 439.73,171.80 441.10,171.70C442.47,171.60 441.65,172.57 443.40,172.50C445.15,172.43 449.65,171.83 451.60,171.30C453.55,170.77 453.70,169.87 455.10,169.30C456.50,168.73 458.17,168.70 460.00,167.90C461.83,167.10 463.83,165.87 466.10,164.50C468.37,163.13 471.08,161.47 473.60,159.70C476.12,157.93 478.67,155.87 481.20,153.90C483.73,151.93 486.27,150.03 488.80,147.90C491.33,145.77 493.62,143.25 496.40,141.10C499.18,138.95 502.73,136.70 505.50,135.00C508.27,133.30 510.48,131.98 513.00,130.90C515.52,129.82 518.45,129.00 520.60,128.50C522.75,128.00 524.13,127.75 525.90,127.90C527.67,128.05 529.68,128.90 531.20,129.40C532.72,129.90 533.35,130.07 535.00,130.90C536.65,131.73 539.08,132.68 541.10,134.40C543.12,136.12 545.08,138.68 547.10,141.20C549.12,143.72 551.43,146.85 553.20,149.50C554.97,152.15 556.18,154.70 557.70,157.10C559.22,159.50 560.78,161.62 562.30,163.90C563.82,166.18 565.28,168.98 566.80,170.80C568.32,172.62 569.88,173.62 571.40,174.80C572.92,175.98 573.88,177.23 575.90,177.90C577.92,178.57 581.48,178.78 583.50,178.80C585.52,178.82 586.48,178.13 588.00,178.00C589.52,177.87 590.83,178.53 592.60,178.00C594.37,177.47 596.58,175.43 598.60,174.80C600.62,174.17 602.85,174.60 604.70,174.20C606.55,173.80 607.70,172.88 609.70,172.40C611.70,171.92 614.57,171.78 616.70,171.30C618.83,170.82 620.55,169.80 622.50,169.50C624.45,169.20 626.65,169.68 628.40,169.50C630.15,169.32 631.25,168.98 633.00,168.40C634.75,167.82 637.53,166.23 638.90,166.00C640.27,165.77 639.85,167.15 641.20,167.00C642.55,166.85 644.87,165.22 647.00,165.10C649.13,164.98 651.85,166.30 654.00,166.30C656.15,166.30 658.13,165.33 659.90,165.10C661.67,164.87 663.23,164.52 664.60,164.90C665.97,165.28 666.93,166.87 668.10,167.40C669.27,167.93 670.43,168.37 671.60,168.10C672.77,167.83 674.10,166.25 675.10,165.80C676.10,165.35 677.18,165.47 677.60,165.40 L677.60,182.40 L386.80,182.40 Z" fill="#f1e5f6"/>
<path d="M386.80,170.40C387.67,170.32 389.97,169.83 392.00,169.90C394.03,169.97 396.27,170.65 399.00,170.80C401.73,170.95 405.67,170.72 408.40,170.80C411.13,170.88 412.68,171.03 415.40,171.30C418.12,171.57 422.37,172.33 424.70,172.40C427.03,172.47 427.65,171.58 429.40,171.70C431.15,171.82 433.25,173.10 435.20,173.10C437.15,173.10 439.73,171.80 441.10,171.70C442.47,171.60 441.65,172.57 443.40,172.50C445.15,172.43 449.65,171.83 451.60,171.30C453.55,170.77 453.70,169.87 455.10,169.30C456.50,168.73 458.17,168.70 460.00,167.90C461.83,167.10 463.83,165.87 466.10,164.50C468.37,163.13 471.08,161.47 473.60,159.70C476.12,157.93 478.67,155.87 481.20,153.90C483.73,151.93 486.27,150.03 488.80,147.90C491.33,145.77 493.62,143.25 496.40,141.10C499.18,138.95 502.73,136.70 505.50,135.00C508.27,133.30 510.48,131.98 513.00,130.90C515.52,129.82 518.45,129.00 520.60,128.50C522.75,128.00 524.13,127.75 525.90,127.90C527.67,128.05 529.68,128.90 531.20,129.40C532.72,129.90 533.35,130.07 535.00,130.90C536.65,131.73 539.08,132.68 541.10,134.40C543.12,136.12 545.08,138.68 547.10,141.20C549.12,143.72 551.43,146.85 553.20,149.50C554.97,152.15 556.18,154.70 557.70,157.10C559.22,159.50 560.78,161.62 562.30,163.90C563.82,166.18 565.28,168.98 566.80,170.80C568.32,172.62 569.88,173.62 571.40,174.80C572.92,175.98 573.88,177.23 575.90,177.90C577.92,178.57 581.48,178.78 583.50,178.80C585.52,178.82 586.48,178.13 588.00,178.00C589.52,177.87 590.83,178.53 592.60,178.00C594.37,177.47 596.58,175.43 598.60,174.80C600.62,174.17 602.85,174.60 604.70,174.20C606.55,173.80 607.70,172.88 609.70,172.40C611.70,171.92 614.57,171.78 616.70,171.30C618.83,170.82 620.55,169.80 622.50,169.50C624.45,169.20 626.65,169.68 628.40,169.50C630.15,169.32 631.25,168.98 633.00,168.40C634.75,167.82 637.53,166.23 638.90,166.00C640.27,165.77 639.85,167.15 641.20,167.00C642.55,166.85 644.87,165.22 647.00,165.10C649.13,164.98 651.85,166.30 654.00,166.30C656.15,166.30 658.13,165.33 659.90,165.10C661.67,164.87 663.23,164.52 664.60,164.90C665.97,165.28 666.93,166.87 668.10,167.40C669.27,167.93 670.43,168.37 671.60,168.10C672.77,167.83 674.10,166.25 675.10,165.80C676.10,165.35 677.18,165.47 677.60,165.40" fill="none" stroke="#7d16ad" stroke-width="1.5" stroke-linejoin="round"/>
<rect x="386.50" y="12.00" width="291.50" height="187.50" fill="none" stroke="#262626" stroke-width="1.3"/>
<line x1="393.30" y1="199.50" x2="393.30" y2="196.00" stroke="#262626" stroke-width="1"/>
<text x="393.30" y="210.30" font-size="10" text-anchor="middle" >1.6</text>
<line x1="421.76" y1="199.50" x2="421.76" y2="197.00" stroke="#262626" stroke-width="1"/>
<line x1="450.22" y1="199.50" x2="450.22" y2="196.00" stroke="#262626" stroke-width="1"/>
<text x="450.22" y="210.30" font-size="10" text-anchor="middle" >2.0</text>
<line x1="478.68" y1="199.50" x2="478.68" y2="197.00" stroke="#262626" stroke-width="1"/>
<line x1="507.14" y1="199.50" x2="507.14" y2="196.00" stroke="#262626" stroke-width="1"/>
<text x="507.14" y="210.30" font-size="10" text-anchor="middle" >2.4</text>
<line x1="535.60" y1="199.50" x2="535.60" y2="197.00" stroke="#262626" stroke-width="1"/>
<line x1="564.06" y1="199.50" x2="564.06" y2="196.00" stroke="#262626" stroke-width="1"/>
<text x="564.06" y="210.30" font-size="10" text-anchor="middle" >2.8</text>
<line x1="592.52" y1="199.50" x2="592.52" y2="197.00" stroke="#262626" stroke-width="1"/>
<line x1="620.98" y1="199.50" x2="620.98" y2="196.00" stroke="#262626" stroke-width="1"/>
<text x="620.98" y="210.30" font-size="10" text-anchor="middle" >3.2</text>
<line x1="649.44" y1="199.50" x2="649.44" y2="197.00" stroke="#262626" stroke-width="1"/>
<line x1="677.90" y1="199.50" x2="677.90" y2="196.00" stroke="#262626" stroke-width="1"/>
<text x="677.90" y="210.30" font-size="10" text-anchor="middle" >3.6</text>
<line x1="386.50" y1="182.40" x2="390.50" y2="182.40" stroke="#262626" stroke-width="1"/>
<text x="383.10" y="185.70" font-size="10" text-anchor="end" >0.0</text>
<line x1="386.50" y1="148.26" x2="390.50" y2="148.26" stroke="#262626" stroke-width="1"/>
<text x="383.10" y="151.56" font-size="10" text-anchor="end" >0.2</text>
<line x1="386.50" y1="114.12" x2="390.50" y2="114.12" stroke="#262626" stroke-width="1"/>
<text x="383.10" y="117.42" font-size="10" text-anchor="end" >0.4</text>
<line x1="386.50" y1="79.98" x2="390.50" y2="79.98" stroke="#262626" stroke-width="1"/>
<text x="383.10" y="83.28" font-size="10" text-anchor="end" >0.6</text>
<line x1="386.50" y1="45.84" x2="390.50" y2="45.84" stroke="#262626" stroke-width="1"/>
<text x="383.10" y="49.14" font-size="10" text-anchor="end" >0.8</text>
<line x1="386.50" y1="11.70" x2="390.50" y2="11.70" stroke="#262626" stroke-width="1"/>
<text x="383.10" y="15.00" font-size="10" text-anchor="end" >1.0</text>
<text x="532.25" y="223.30" font-size="10" text-anchor="middle" ><tspan font-style="italic">hv</tspan> (eV)</text>
<text transform="translate(361.00,105.75) rotate(-90)" font-size="10" text-anchor="middle">Extinction (1-T/T<tspan font-size="7" dy="2.2">0</tspan><tspan dy="-2.2">)</tspan></text>
<text x="319.30" y="26.60" font-size="10" text-anchor="end" >E // b</text>
<text x="76.80" y="133.60" font-size="10" text-anchor="middle" >E1</text>
<text x="80.20" y="144.80" font-size="10" text-anchor="middle" >1.85 eV</text>
<line x1="76.5" y1="148" x2="76.5" y2="155" stroke="#111" stroke-width="1"/>
<path d="M74.2,154 L78.8,154 L76.5,159.5 Z" fill="#111"/>
<text x="275.40" y="56.80" font-size="10" text-anchor="middle" >E3</text>
<text x="673.00" y="26.70" font-size="10" text-anchor="end" >E // c</text>
<text x="522.50" y="100.00" font-size="10" text-anchor="middle" >E2</text>
<text x="524.60" y="111.60" font-size="10" text-anchor="middle" >2.52 eV</text>
<line x1="524.7" y1="114.4" x2="524.7" y2="121" stroke="#111" stroke-width="1"/>
<path d="M522.4,120.5 L527,120.5 L524.7,126 Z" fill="#111"/>
<text x="2.00" y="10.40" font-size="14" text-anchor="start" font-weight="bold">a</text>
<text x="353.80" y="10.30" font-size="14" text-anchor="start" font-weight="bold">b</text>
<text x="2.00" y="246.30" font-size="14" text-anchor="start" font-weight="bold">c</text>
<text x="353.80" y="246.60" font-size="14" text-anchor="start" font-weight="bold">d</text>
<rect x="34.00" y="247.50" width="291.50" height="188.00" fill="none" stroke="#262626" stroke-width="1.3"/>
<line x1="41.30" y1="435.50" x2="41.30" y2="432.00" stroke="#262626" stroke-width="1"/>
<text x="41.30" y="446.20" font-size="10" text-anchor="middle" >1.6</text>
<line x1="69.72" y1="435.50" x2="69.72" y2="433.00" stroke="#262626" stroke-width="1"/>
<line x1="98.14" y1="435.50" x2="98.14" y2="432.00" stroke="#262626" stroke-width="1"/>
<text x="98.14" y="446.20" font-size="10" text-anchor="middle" >2.0</text>
<line x1="126.56" y1="435.50" x2="126.56" y2="433.00" stroke="#262626" stroke-width="1"/>
<line x1="154.98" y1="435.50" x2="154.98" y2="432.00" stroke="#262626" stroke-width="1"/>
<text x="154.98" y="446.20" font-size="10" text-anchor="middle" >2.4</text>
<line x1="183.40" y1="435.50" x2="183.40" y2="433.00" stroke="#262626" stroke-width="1"/>
<line x1="211.82" y1="435.50" x2="211.82" y2="432.00" stroke="#262626" stroke-width="1"/>
<text x="211.82" y="446.20" font-size="10" text-anchor="middle" >2.8</text>
<line x1="240.24" y1="435.50" x2="240.24" y2="433.00" stroke="#262626" stroke-width="1"/>
<line x1="268.66" y1="435.50" x2="268.66" y2="432.00" stroke="#262626" stroke-width="1"/>
<text x="268.66" y="446.20" font-size="10" text-anchor="middle" >3.2</text>
<line x1="297.08" y1="435.50" x2="297.08" y2="433.00" stroke="#262626" stroke-width="1"/>
<line x1="325.50" y1="435.50" x2="325.50" y2="432.00" stroke="#262626" stroke-width="1"/>
<text x="325.50" y="446.20" font-size="10" text-anchor="middle" >3.6</text>
<line x1="32.00" y1="435.50" x2="38.00" y2="435.50" stroke="#262626" stroke-width="1"/>
<text x="31.00" y="439.10" font-size="10" text-anchor="end" >0</text>
<line x1="34.00" y1="412.00" x2="37.00" y2="412.00" stroke="#262626" stroke-width="1"/>
<line x1="32.00" y1="388.50" x2="38.00" y2="388.50" stroke="#262626" stroke-width="1"/>
<text x="31.00" y="392.10" font-size="10" text-anchor="end" >90</text>
<line x1="34.00" y1="365.00" x2="37.00" y2="365.00" stroke="#262626" stroke-width="1"/>
<line x1="32.00" y1="341.50" x2="38.00" y2="341.50" stroke="#262626" stroke-width="1"/>
<text x="31.00" y="345.10" font-size="10" text-anchor="end" >180</text>
<line x1="34.00" y1="318.00" x2="37.00" y2="318.00" stroke="#262626" stroke-width="1"/>
<line x1="32.00" y1="294.50" x2="38.00" y2="294.50" stroke="#262626" stroke-width="1"/>
<text x="31.00" y="298.10" font-size="10" text-anchor="end" >270</text>
<line x1="34.00" y1="271.00" x2="37.00" y2="271.00" stroke="#262626" stroke-width="1"/>
<line x1="32.00" y1="247.50" x2="38.00" y2="247.50" stroke="#262626" stroke-width="1"/>
<text x="31.00" y="251.10" font-size="10" text-anchor="end" >360</text>
<text x="39.20" y="392.10" font-size="10" text-anchor="start" >c</text>
<text x="39.20" y="345.10" font-size="10" text-anchor="start" >b</text>
<text x="39.20" y="298.10" font-size="10" text-anchor="start" >c</text>
<text x="179.75" y="459.30" font-size="10" text-anchor="middle" ><tspan font-style="italic">hv</tspan> (eV)</text>
<text transform="translate(8.4,341.50) rotate(-90)" font-size="10" text-anchor="middle">Polarization (°)</text>
<text x="75.50" y="344.60" font-size="10" text-anchor="middle" >E1</text>
<text x="168.70" y="393.60" font-size="10" text-anchor="middle" >E2</text>
<text x="271.70" y="347.30" font-size="10" text-anchor="middle" >E3</text>
<defs><linearGradient id="cb" x1="0" y1="1" x2="0" y2="0"><stop offset="0.00" stop-color="rgb(255,255,255)"/><stop offset="0.05" stop-color="rgb(236,224,255)"/><stop offset="0.12" stop-color="rgb(184,136,255)"/><stop offset="0.19" stop-color="rgb(130,8,255)"/><stop offset="0.27" stop-color="rgb(142,16,204)"/><stop offset="0.36" stop-color="rgb(164,26,120)"/><stop offset="0.46" stop-color="rgb(192,40,48)"/><stop offset="0.55" stop-color="rgb(214,66,8)"/><stop offset="0.65" stop-color="rgb(240,112,0)"/><stop offset="0.76" stop-color="rgb(255,160,0)"/><stop offset="0.87" stop-color="rgb(255,208,0)"/><stop offset="1.00" stop-color="rgb(255,240,0)"/></linearGradient></defs>
<rect x="332.40" y="388.20" width="7.30" height="37.60" fill="url(#cb)" stroke="#111" stroke-width="1"/>
<text x="335.90" y="385.20" font-size="10" text-anchor="middle" >0.7</text>
<text x="335.90" y="435.20" font-size="10" text-anchor="middle" >0.0</text>
<text transform="translate(344.6,407.3) rotate(90)" font-size="10" text-anchor="middle">1-T/T<tspan font-size="7" dy="2.2">0</tspan></text>
<path d="M386.60,272.21 L388.10,272.21 L389.60,272.26 L391.10,272.36 L392.60,272.52 L394.10,272.73 L395.60,272.99 L397.10,273.30 L398.60,273.65 L400.10,274.05 L401.60,274.50 L403.10,274.99 L404.60,275.52 L406.10,276.09 L407.60,276.71 L409.10,277.36 L410.60,278.05 L412.10,278.78 L413.60,279.54 L415.10,280.34 L416.60,281.16 L418.10,282.03 L419.60,282.92 L421.10,283.84 L422.60,284.79 L424.10,285.76 L425.60,286.76 L427.10,287.79 L428.60,288.84 L430.10,289.91 L431.60,291.00 L433.10,292.11 L434.60,293.24 L436.10,294.39 L437.60,295.55 L439.10,296.72 L440.60,297.91 L442.10,299.10 L443.60,300.30 L445.10,301.50 L446.60,302.70 L448.10,303.90 L449.60,305.09 L451.10,306.27 L452.60,307.45 L454.10,308.60 L455.60,309.75 L457.10,310.87 L458.60,311.97 L460.10,313.05 L461.60,314.09 L463.10,315.11 L464.60,316.10 L466.10,317.05 L467.60,317.96 L469.10,318.84 L470.60,319.68 L472.10,320.47 L473.60,321.23 L475.10,321.95 L476.60,322.64 L478.10,323.28 L479.60,323.88 L481.10,324.44 L482.60,324.96 L484.10,325.45 L485.60,325.89 L487.10,326.29 L488.60,326.65 L490.10,326.97 L491.60,327.25 L493.10,327.49 L494.60,327.69 L496.10,327.85 L497.60,327.96 L499.10,328.04 L500.60,328.07 L502.10,328.08 L503.60,328.05 L505.10,327.99 L506.60,327.91 L508.10,327.80 L509.60,327.67 L511.10,327.52 L512.60,327.35 L514.10,327.17 L515.60,326.98 L517.10,326.77 L518.60,326.56 L520.10,326.35 L521.60,326.13 L523.10,325.91 L524.60,325.70 L526.10,325.49 L527.60,325.29 L529.10,325.09 L530.60,324.92 L532.10,324.75 L533.60,324.61 L535.10,324.47 L536.60,324.35 L538.10,324.25 L539.60,324.16 L541.10,324.07 L542.60,324.00 L544.10,323.94 L545.60,323.89 L547.10,323.84 L548.60,323.80 L550.10,323.77 L551.60,323.74 L553.10,323.71 L554.60,323.67 L556.10,323.62 L557.60,323.56 L559.10,323.49 L560.60,323.39 L562.10,323.27 L563.60,323.12 L565.10,322.94 L566.60,322.73 L568.10,322.47 L569.60,322.18 L571.10,321.84 L572.60,321.46 L574.10,321.04 L575.60,320.58 L577.10,320.08 L578.60,319.55 L580.10,318.97 L581.60,318.35 L583.10,317.70 L584.60,317.01 L586.10,316.29 L587.60,315.53 L589.10,314.74 L590.60,313.91 L592.10,313.05 L593.60,312.16 L595.10,311.23 L596.60,310.28 L598.10,309.29 L599.60,308.27 L601.10,307.22 L602.60,306.15 L604.10,305.05 L605.60,303.92 L607.10,302.77 L608.60,301.60 L610.10,300.42 L611.60,299.21 L613.10,298.00 L614.60,296.77 L616.10,295.53 L617.60,294.28 L619.10,293.02 L620.60,291.77 L622.10,290.51 L623.60,289.25 L625.10,287.99 L626.60,286.74 L628.10,285.49 L629.60,284.25 L631.10,283.03 L632.60,281.81 L634.10,280.61 L635.60,279.43 L637.10,278.26 L638.60,277.12 L640.10,276.00 L641.60,274.90 L643.10,273.83 L644.60,272.79 L646.10,271.78 L647.60,270.80 L649.10,269.86 L650.60,268.95 L652.10,268.09 L653.60,267.26 L655.10,266.48 L656.60,265.75 L658.10,265.06 L659.60,264.42 L661.10,263.83 L662.60,263.30 L664.10,262.82 L665.60,262.40 L667.10,262.04 L668.60,261.74 L670.10,261.50 L671.60,261.33 L673.10,261.23 L674.60,261.20 L676.10,261.24 L677.80,261.38 L678.00,247.50 L386.50,247.50 Z" fill="#faf8fe"/>
<path d="M476.60,322.64 L478.10,323.28 L479.60,323.88 L481.10,324.44 L482.60,324.96 L484.10,325.45 L485.60,325.89 L487.10,326.29 L488.60,326.65 L490.10,326.97 L491.60,327.25 L493.10,327.49 L494.60,327.69 L496.10,327.85 L497.60,327.96 L499.10,328.04 L500.60,328.07 L502.10,328.08 L503.60,328.05 L505.10,327.99 L506.60,327.91 L508.10,327.80 L509.60,327.67 L511.10,327.52 L512.60,327.35 L514.10,327.17 L515.60,326.98 L517.10,326.77 L518.60,326.56 L520.10,326.35 L521.60,326.13 L523.10,325.91 L524.60,325.70 L526.10,325.49 L527.60,325.29 L529.10,325.09 L530.60,324.92 L532.10,324.75 L533.60,324.61 L535.10,324.47 L536.60,324.35 L538.10,324.25 L539.60,324.16 L541.10,324.07 L542.60,324.00 L544.10,323.94 L545.60,323.89 L547.10,323.84 L548.60,323.80 L550.10,323.77 L551.60,323.74 L553.10,323.71 L554.60,323.67 L556.10,323.62 L557.60,323.56 L559.10,323.49 L560.60,323.39 L562.10,323.27 L563.60,323.12 L565.10,322.94 L566.60,322.73 Z" fill="#d0c0f4"/>
<rect x="386.50" y="398" width="291.50" height="37.50" fill="#d4c3f2"/>
<line x1="503.50" y1="247.50" x2="503.50" y2="435.50" stroke="#cfcfcf" stroke-width="1.1"/>
<line x1="561.50" y1="247.50" x2="561.50" y2="435.50" stroke="#cfcfcf" stroke-width="1.1"/>
<line x1="386.50" y1="322.5" x2="678.00" y2="322.5" stroke="#1a1a1a" stroke-width="1.1" stroke-dasharray="3.7 3"/>
<path d="M386.60,272.21 L388.10,272.21 L389.60,272.26 L391.10,272.36 L392.60,272.52 L394.10,272.73 L395.60,272.99 L397.10,273.30 L398.60,273.65 L400.10,274.05 L401.60,274.50 L403.10,274.99 L404.60,275.52 L406.10,276.09 L407.60,276.71 L409.10,277.36 L410.60,278.05 L412.10,278.78 L413.60,279.54 L415.10,280.34 L416.60,281.16 L418.10,282.03 L419.60,282.92 L421.10,283.84 L422.60,284.79 L424.10,285.76 L425.60,286.76 L427.10,287.79 L428.60,288.84 L430.10,289.91 L431.60,291.00 L433.10,292.11 L434.60,293.24 L436.10,294.39 L437.60,295.55 L439.10,296.72 L440.60,297.91 L442.10,299.10 L443.60,300.30 L445.10,301.50 L446.60,302.70 L448.10,303.90 L449.60,305.09 L451.10,306.27 L452.60,307.45 L454.10,308.60 L455.60,309.75 L457.10,310.87 L458.60,311.97 L460.10,313.05 L461.60,314.09 L463.10,315.11 L464.60,316.10 L466.10,317.05 L467.60,317.96 L469.10,318.84 L470.60,319.68 L472.10,320.47 L473.60,321.23 L475.10,321.95 L476.60,322.64 L478.10,323.28 L479.60,323.88 L481.10,324.44 L482.60,324.96 L484.10,325.45 L485.60,325.89 L487.10,326.29 L488.60,326.65 L490.10,326.97 L491.60,327.25 L493.10,327.49 L494.60,327.69 L496.10,327.85 L497.60,327.96 L499.10,328.04 L500.60,328.07 L502.10,328.08 L503.60,328.05 L505.10,327.99 L506.60,327.91 L508.10,327.80 L509.60,327.67 L511.10,327.52 L512.60,327.35 L514.10,327.17 L515.60,326.98 L517.10,326.77 L518.60,326.56 L520.10,326.35 L521.60,326.13 L523.10,325.91 L524.60,325.70 L526.10,325.49 L527.60,325.29 L529.10,325.09 L530.60,324.92 L532.10,324.75 L533.60,324.61 L535.10,324.47 L536.60,324.35 L538.10,324.25 L539.60,324.16 L541.10,324.07 L542.60,324.00 L544.10,323.94 L545.60,323.89 L547.10,323.84 L548.60,323.80 L550.10,323.77 L551.60,323.74 L553.10,323.71 L554.60,323.67 L556.10,323.62 L557.60,323.56 L559.10,323.49 L560.60,323.39 L562.10,323.27 L563.60,323.12 L565.10,322.94 L566.60,322.73 L568.10,322.47 L569.60,322.18 L571.10,321.84 L572.60,321.46 L574.10,321.04 L575.60,320.58 L577.10,320.08 L578.60,319.55 L580.10,318.97 L581.60,318.35 L583.10,317.70 L584.60,317.01 L586.10,316.29 L587.60,315.53 L589.10,314.74 L590.60,313.91 L592.10,313.05 L593.60,312.16 L595.10,311.23 L596.60,310.28 L598.10,309.29 L599.60,308.27 L601.10,307.22 L602.60,306.15 L604.10,305.05 L605.60,303.92 L607.10,302.77 L608.60,301.60 L610.10,300.42 L611.60,299.21 L613.10,298.00 L614.60,296.77 L616.10,295.53 L617.60,294.28 L619.10,293.02 L620.60,291.77 L622.10,290.51 L623.60,289.25 L625.10,287.99 L626.60,286.74 L628.10,285.49 L629.60,284.25 L631.10,283.03 L632.60,281.81 L634.10,280.61 L635.60,279.43 L637.10,278.26 L638.60,277.12 L640.10,276.00 L641.60,274.90 L643.10,273.83 L644.60,272.79 L646.10,271.78 L647.60,270.80 L649.10,269.86 L650.60,268.95 L652.10,268.09 L653.60,267.26 L655.10,266.48 L656.60,265.75 L658.10,265.06 L659.60,264.42 L661.10,263.83 L662.60,263.30 L664.10,262.82 L665.60,262.40 L667.10,262.04 L668.60,261.74 L670.10,261.50 L671.60,261.33 L673.10,261.23 L674.60,261.20 L676.10,261.24 L677.80,261.38" fill="none" stroke="#8a22b8" stroke-width="1.4"/>
<line x1="386.50" y1="358.5" x2="678.00" y2="358.5" stroke="#8a1cb4" stroke-width="1.3"/>
<line x1="386.50" y1="398" x2="678.00" y2="398" stroke="#8a1cb4" stroke-width="1.4"/>
<rect x="386.50" y="247.50" width="291.50" height="188.00" fill="none" stroke="#262626" stroke-width="1.2"/>
<line x1="386.50" y1="247.50" x2="390.50" y2="247.50" stroke="#262626" stroke-width="1"/>
<text x="383.20" y="251.10" font-size="10" text-anchor="end" >4</text>
<line x1="386.50" y1="285.50" x2="390.50" y2="285.50" stroke="#262626" stroke-width="1"/>
<text x="383.20" y="289.10" font-size="10" text-anchor="end" >2</text>
<line x1="386.50" y1="322.50" x2="390.50" y2="322.50" stroke="#262626" stroke-width="1"/>
<text x="383.20" y="326.10" font-size="10" text-anchor="end" >0</text>
<line x1="386.50" y1="360.50" x2="390.50" y2="360.50" stroke="#262626" stroke-width="1"/>
<text x="383.20" y="364.10" font-size="10" text-anchor="end" >-2</text>
<line x1="386.50" y1="397.50" x2="390.50" y2="397.50" stroke="#262626" stroke-width="1"/>
<text x="383.20" y="401.10" font-size="10" text-anchor="end" >-4</text>
<line x1="386.50" y1="435.50" x2="390.50" y2="435.50" stroke="#262626" stroke-width="1"/>
<text x="383.20" y="439.10" font-size="10" text-anchor="end" >-6</text>
<text x="444.70" y="243.60" font-size="10" text-anchor="middle" >b</text>
<text x="532.40" y="243.60" font-size="10" text-anchor="middle" >c</text>
<text x="623.50" y="243.60" font-size="10" text-anchor="middle" >b</text>
<text x="386.40" y="447.00" font-size="10" text-anchor="middle" >S</text>
<text x="503.00" y="447.00" font-size="10" text-anchor="middle" >Z</text>
<text x="561.60" y="447.00" font-size="10" text-anchor="middle" >Γ</text>
<text x="678.60" y="447.00" font-size="10" text-anchor="middle" >Y</text>
<line x1="503.40" y1="334.20" x2="503.40" y2="353.10" stroke="#151515" stroke-width="1.1"/>
<path d="M503.40,329.50 L500.90,334.70 L505.90,334.70 Z" fill="#151515"/>
<path d="M503.40,357.80 L500.90,352.60 L505.90,352.60 Z" fill="#151515"/>
<line x1="397.85" y1="364.10" x2="397.85" y2="392.40" stroke="#151515" stroke-width="1.1"/>
<path d="M397.85,360.10 L395.65,364.60 L400.05,364.60 Z" fill="#151515"/>
<path d="M397.85,396.40 L395.65,391.90 L400.05,391.90 Z" fill="#151515"/>
<line x1="475.3" y1="356.8" x2="475.3" y2="327" stroke="#ee5a60" stroke-width="1.6"/>
<path d="M475.3,322.4 L472.1,329.2 L478.5,329.2 Z" fill="#e42a2a"/>
<text x="477.30" y="344.00" font-size="10" text-anchor="start" >E1</text>
<text x="506.80" y="347.60" font-size="10" text-anchor="start" >1.6 eV</text>
<text x="401.30" y="381.10" font-size="10" text-anchor="start" >2.1 eV</text>
<text x="675.50" y="258.90" font-size="10" text-anchor="end" >CB</text>
<text x="664.7" y="316.9" font-size="10">E<tspan font-size="7" dy="2" font-style="italic" stroke-width="0.1">F</tspan></text>
<text x="675.20" y="353.40" font-size="10" text-anchor="end" >Flat band</text>
<text x="673.90" y="411.00" font-size="10" text-anchor="end" >Remote VBs</text>
<text transform="translate(367.2,341) rotate(-90)" font-size="10" text-anchor="middle"><tspan font-style="italic">E</tspan>-<tspan font-style="italic">E</tspan><tspan font-size="7" dy="2" font-style="italic" stroke-width="0.1">F</tspan><tspan dy="-2"> (eV)</tspan></text></svg></div></body></html>
